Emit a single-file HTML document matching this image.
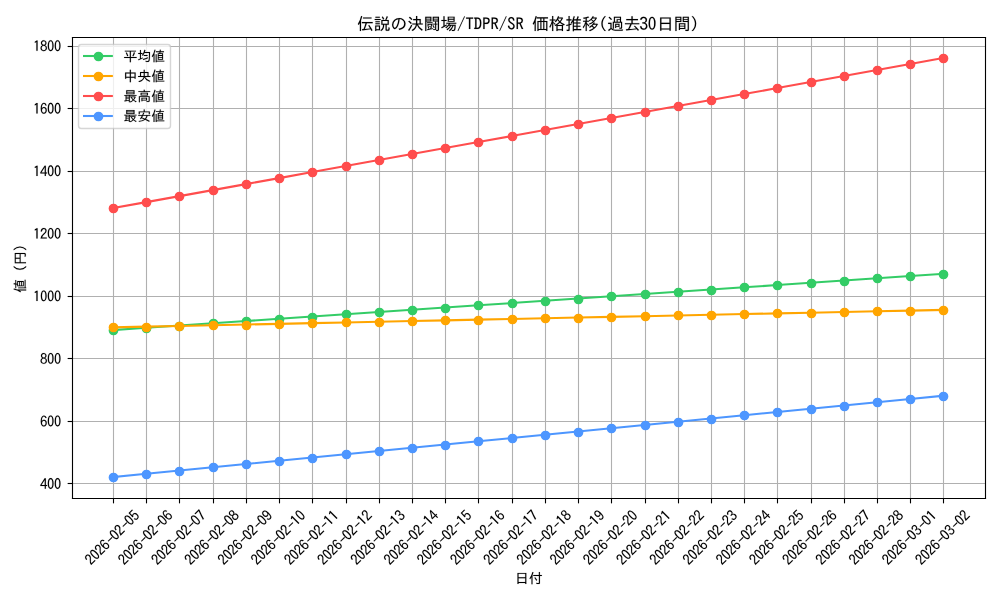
<!DOCTYPE html>
<html><head><meta charset="utf-8"><title>chart</title>
<style>html,body{margin:0;padding:0;background:#fff;width:1000px;height:600px;overflow:hidden;font-family:"Liberation Sans",sans-serif}svg{display:block}g[id^="text_"]{stroke:#000;stroke-width:0.12px}path[id^="IPAGothic"]{vector-effect:non-scaling-stroke}</style>
</head><body>
<svg width="1000" height="600" viewBox="0 0 720 432">
<defs>
<style type="text/css">*{stroke-linejoin: round; stroke-linecap: butt}</style>
</defs>
<g id="figure_1">
<g id="patch_1">
<path d="M 0 432
L 720 432
L 720 0
L 0 0
z
" style="fill: #ffffff"/>
</g>
<g id="axes_1">
<g id="patch_2">
<path d="M 51.516 358.56
L 709.164 358.56
L 709.164 26.6904
L 51.516 26.6904
z
" style="fill: #ffffff"/>
</g>
<g id="matplotlib.axis_1">
<g id="xtick_1">
<g id="line2d_1">
<path d="M 81.7200 358.9200 L 81.7200 27.0000" clip-path="url(#p26bf94b5a2)" style="fill: none; stroke: #b0b0b0; stroke-width: 0.8; stroke-linecap: square"/>
</g>
<g id="line2d_2">
<defs>
<path id="m1504cfccaf" d="M 0 0
L 0 3.5
" style="stroke: #000000; stroke-width: 0.8"/>
</defs>
<g>
<use href="#m1504cfccaf" x="81.7200" y="358.9200" style="stroke: #000000; stroke-width: 0.8"/>
</g>
</g>
<g id="text_1" transform="translate(0.0000 0.6480)">
<!-- 2026-02-05 -->
<g transform="translate(66.058245 406.225269) rotate(-45) scale(0.1 -0.1)">
<defs>
<path id="IPAGothic-32" d="M2660.25 190.56250000000003H-201.7500000000001Q4.124999999999886 1492.375 1178.625 2446.375Q1647.75 2820.6875 1813.125 3062.5Q2029.125 3363.9375 2029.125 3774.6875Q2029.125 4109.25 1877.25 4317.9375Q1681.5 4609.4375 1290.0 4609.4375Q493.4999999999999 4609.4375 419.2499999999999 3456.6875H-124.12500000000011Q-83.62500000000011 4145.6875 206.6249999999999 4539.875Q587.9999999999999 5069.875 1303.5 5069.875Q1803.0 5069.875 2147.25 4785.0Q2582.625 4417.3125 2582.625 3781.3125Q2582.625 2893.5625 1560.0 2131.6875Q685.8749999999999 1479.125 510.3749999999999 694.0625H2660.25Z" transform="scale(0.015625)"/>
<path id="IPAGothic-30" d="M1257.9375 5076.5Q1870.975875 5076.5 2224.034625 4437.1875Q2599.56075 3758.125 2599.56075 2565.625Q2599.56075 1399.625 2243.2923749999995 727.1875Q1890.2336249999998 54.75000000000003 1257.9375 54.75000000000003Q628.8509999999998 54.75000000000003 285.42112499999996 707.3125Q-83.68575000000004 1402.9375 -83.68575000000004 2572.25Q-83.68575000000004 3811.125 323.93662499999994 4500.125Q667.3665 5076.5 1257.9375 5076.5ZM1257.9375 4579.625Q468.36974999999984 4579.625 468.36974999999984 2572.25Q468.36974999999984 551.625 1264.35675 551.625Q2047.5052499999997 551.625 2047.5052499999997 2552.375Q2047.5052499999997 4579.625 1257.9375 4579.625Z" transform="scale(0.015625)"/>
<path id="IPAGothic-36" d="M2035.875 3884.0Q1931.25 4602.8125 1377.75 4602.8125Q898.4999999999999 4602.8125 638.6249999999999 4033.0625Q395.6249999999999 3499.75 385.4999999999999 2588.8125Q780.3749999999999 3151.9375 1391.25 3151.9375Q1897.5 3151.9375 2248.5 2784.25Q2663.625 2356.9375 2663.625 1658.0Q2663.625 1075.0 2380.125 641.0625Q1995.375 58.06250000000003 1296.75 58.06250000000003Q662.2499999999999 58.06250000000003 280.8749999999999 627.8125Q-127.50000000000011 1253.875 -127.50000000000011 2363.5625Q-127.50000000000011 3542.8125 230.2499999999999 4268.25Q638.6249999999999 5076.5 1371.0 5076.5Q2373.375 5076.5 2602.875 3884.0ZM1303.5 2711.375Q901.8749999999999 2711.375 658.8749999999999 2350.3125Q473.2499999999999 2065.4375 473.2499999999999 1638.125Q473.2499999999999 1253.875 604.8749999999999 985.5625Q834.3749999999999 525.125 1310.25 525.125Q1691.625 525.125 1924.5 863.0Q2130.375 1161.125 2130.375 1644.75Q2130.375 2085.3125 1951.5 2363.5625Q1732.125 2711.375 1303.5 2711.375Z" transform="scale(0.015625)"/>
<path id="IPAGothic-2d" d="M 313 2663
L 2884 2663
L 2884 2203
L 313 2203
L 313 2663
z
" transform="scale(0.015625)"/>
<path id="IPAGothic-35" d="M139.1249999999999 4940.6875H2434.125V4467.0H621.7499999999999L547.4999999999999 2906.8125Q888.3749999999999 3291.0625 1404.75 3291.0625Q1958.25 3291.0625 2322.75 2830.625Q2670.375 2386.75 2670.375 1724.25Q2670.375 1157.8125 2440.875 740.4375Q2056.125 54.75000000000003 1246.125 54.75000000000003Q108.74999999999989 54.75000000000003 -117.37500000000011 1303.5625H436.1249999999999Q550.8749999999999 528.4375 1242.75 528.4375Q1688.25 528.4375 1934.625 902.75Q2143.875 1217.4375 2143.875 1717.625Q2143.875 2161.5 1968.375 2449.6875Q1752.375 2837.25 1313.625 2837.25Q776.9999999999999 2837.25 456.3749999999999 2204.5625L20.999999999999886 2294.0Z" transform="scale(0.015625)"/>
</defs>
<use href="#IPAGothic-32"/>
<use href="#IPAGothic-30" transform="translate(50 0)"/>
<use href="#IPAGothic-32" transform="translate(100 0)"/>
<use href="#IPAGothic-36" transform="translate(150 0)"/>
<use href="#IPAGothic-2d" transform="translate(200 0)"/>
<use href="#IPAGothic-30" transform="translate(250 0)"/>
<use href="#IPAGothic-32" transform="translate(300 0)"/>
<use href="#IPAGothic-2d" transform="translate(350 0)"/>
<use href="#IPAGothic-30" transform="translate(400 0)"/>
<use href="#IPAGothic-35" transform="translate(450 0)"/>
</g>
</g>
</g>
<g id="xtick_2">
<g id="line2d_3">
<path d="M 105.4800 358.9200 L 105.4800 27.0000" clip-path="url(#p26bf94b5a2)" style="fill: none; stroke: #b0b0b0; stroke-width: 0.8; stroke-linecap: square"/>
</g>
<g id="line2d_4">
<g>
<use href="#m1504cfccaf" x="105.4800" y="358.9200" style="stroke: #000000; stroke-width: 0.8"/>
</g>
</g>
<g id="text_2" transform="translate(0.0000 0.6480)">
<!-- 2026-02-06 -->
<g transform="translate(89.972717 406.225269) rotate(-45) scale(0.1 -0.1)">
<use href="#IPAGothic-32"/>
<use href="#IPAGothic-30" transform="translate(50 0)"/>
<use href="#IPAGothic-32" transform="translate(100 0)"/>
<use href="#IPAGothic-36" transform="translate(150 0)"/>
<use href="#IPAGothic-2d" transform="translate(200 0)"/>
<use href="#IPAGothic-30" transform="translate(250 0)"/>
<use href="#IPAGothic-32" transform="translate(300 0)"/>
<use href="#IPAGothic-2d" transform="translate(350 0)"/>
<use href="#IPAGothic-30" transform="translate(400 0)"/>
<use href="#IPAGothic-36" transform="translate(450 0)"/>
</g>
</g>
</g>
<g id="xtick_3">
<g id="line2d_5">
<path d="M 129.2400 358.9200 L 129.2400 27.0000" clip-path="url(#p26bf94b5a2)" style="fill: none; stroke: #b0b0b0; stroke-width: 0.8; stroke-linecap: square"/>
</g>
<g id="line2d_6">
<g>
<use href="#m1504cfccaf" x="129.2400" y="358.9200" style="stroke: #000000; stroke-width: 0.8"/>
</g>
</g>
<g id="text_3" transform="translate(0.0000 0.6480)">
<!-- 2026-02-07 -->
<g transform="translate(113.88719 406.225269) rotate(-45) scale(0.1 -0.1)">
<defs>
<path id="IPAGothic-37" d="M-127.50000000000011 4940.6875H2636.625V4553.125Q1664.625 2191.3125 1178.625 190.56250000000003H550.8749999999999Q1077.375 2019.0625 2042.625 4423.9375H-127.50000000000011Z" transform="scale(0.015625)"/>
</defs>
<use href="#IPAGothic-32"/>
<use href="#IPAGothic-30" transform="translate(50 0)"/>
<use href="#IPAGothic-32" transform="translate(100 0)"/>
<use href="#IPAGothic-36" transform="translate(150 0)"/>
<use href="#IPAGothic-2d" transform="translate(200 0)"/>
<use href="#IPAGothic-30" transform="translate(250 0)"/>
<use href="#IPAGothic-32" transform="translate(300 0)"/>
<use href="#IPAGothic-2d" transform="translate(350 0)"/>
<use href="#IPAGothic-30" transform="translate(400 0)"/>
<use href="#IPAGothic-37" transform="translate(450 0)"/>
</g>
</g>
</g>
<g id="xtick_4">
<g id="line2d_7">
<path d="M 153.7200 358.9200 L 153.7200 27.0000" clip-path="url(#p26bf94b5a2)" style="fill: none; stroke: #b0b0b0; stroke-width: 0.8; stroke-linecap: square"/>
</g>
<g id="line2d_8">
<g>
<use href="#m1504cfccaf" x="153.7200" y="358.9200" style="stroke: #000000; stroke-width: 0.8"/>
</g>
</g>
<g id="text_4" transform="translate(0.0000 0.6480)">
<!-- 2026-02-08 -->
<g transform="translate(137.801663 406.225269) rotate(-45) scale(0.1 -0.1)">
<defs>
<path id="IPAGothic-38" d="M662.2499999999999 2751.125Q-36.375000000000114 3085.6875 -36.375000000000114 3821.0625Q-36.375000000000114 4175.5 135.7499999999999 4467.0Q500.2499999999999 5076.5 1256.25 5076.5Q1634.25 5076.5 1961.625 4881.0625Q2548.875 4526.625 2548.875 3821.0625Q2548.875 3085.6875 1850.25 2751.125Q2744.625 2413.25 2744.625 1479.125Q2744.625 945.8125 2440.875 564.875Q2035.875 54.75000000000003 1256.25 54.75000000000003Q594.7499999999999 54.75000000000003 193.1249999999999 429.0625Q-228.7500000000001 823.25 -228.7500000000001 1479.125Q-228.7500000000001 2413.25 662.2499999999999 2751.125ZM1256.25 4642.5625Q908.6249999999999 4642.5625 689.2499999999999 4397.4375Q490.1249999999999 4168.875 490.1249999999999 3827.6875Q490.1249999999999 3602.4375 574.4999999999999 3420.25Q780.3749999999999 2979.6875 1263.0 2979.6875Q1539.75 2979.6875 1732.125 3148.625Q2022.375 3393.75 2022.375 3827.6875Q2022.375 4251.6875 1732.125 4486.875Q1533.0 4642.5625 1256.25 4642.5625ZM1249.5 2492.75Q800.6249999999999 2492.75 533.9999999999999 2168.125Q311.2499999999999 1886.5625 311.2499999999999 1479.125Q311.2499999999999 1088.25 527.2499999999999 826.5625Q793.8749999999999 501.9375 1256.25 501.9375Q1722.0 501.9375 1992.0 826.5625Q2204.625 1088.25 2204.625 1479.125Q2204.625 1989.25 1887.375 2260.875Q1630.875 2492.75 1249.5 2492.75Z" transform="scale(0.015625)"/>
</defs>
<use href="#IPAGothic-32"/>
<use href="#IPAGothic-30" transform="translate(50 0)"/>
<use href="#IPAGothic-32" transform="translate(100 0)"/>
<use href="#IPAGothic-36" transform="translate(150 0)"/>
<use href="#IPAGothic-2d" transform="translate(200 0)"/>
<use href="#IPAGothic-30" transform="translate(250 0)"/>
<use href="#IPAGothic-32" transform="translate(300 0)"/>
<use href="#IPAGothic-2d" transform="translate(350 0)"/>
<use href="#IPAGothic-30" transform="translate(400 0)"/>
<use href="#IPAGothic-38" transform="translate(450 0)"/>
</g>
</g>
</g>
<g id="xtick_5">
<g id="line2d_9">
<path d="M 177.4800 358.9200 L 177.4800 27.0000" clip-path="url(#p26bf94b5a2)" style="fill: none; stroke: #b0b0b0; stroke-width: 0.8; stroke-linecap: square"/>
</g>
<g id="line2d_10">
<g>
<use href="#m1504cfccaf" x="177.4800" y="358.9200" style="stroke: #000000; stroke-width: 0.8"/>
</g>
</g>
<g id="text_5" transform="translate(0.0000 0.6480)">
<!-- 2026-02-09 -->
<g transform="translate(161.716136 406.225269) rotate(-45) scale(0.1 -0.1)">
<defs>
<path id="IPAGothic-39" d="M510.3749999999999 1290.3125Q594.7499999999999 551.625 1222.5 551.625Q2154.0 551.625 2143.875 2496.0625Q1755.75 1936.25 1168.5 1936.25Q456.3749999999999 1936.25 101.99999999999989 2588.8125Q-97.12500000000011 2969.75 -97.12500000000011 3469.9375Q-97.12500000000011 4105.9375 253.8749999999999 4573.0Q631.8749999999999 5076.5 1222.5 5076.5Q2646.75 5076.5 2646.75 2714.6875Q2646.75 54.75000000000003 1229.25 54.75000000000003Q581.2499999999999 54.75000000000003 206.6249999999999 604.625Q14.249999999999886 889.5 -56.625000000000114 1290.3125ZM1246.125 4609.4375Q429.3749999999999 4609.4375 429.3749999999999 3483.1875Q429.3749999999999 3065.8125 574.4999999999999 2790.875Q790.4999999999999 2383.4375 1246.125 2383.4375Q1536.375 2383.4375 1762.5 2635.1875Q2052.75 2959.8125 2052.75 3483.1875Q2052.75 4006.5625 1823.25 4311.3125Q1603.875 4609.4375 1246.125 4609.4375Z" transform="scale(0.015625)"/>
</defs>
<use href="#IPAGothic-32"/>
<use href="#IPAGothic-30" transform="translate(50 0)"/>
<use href="#IPAGothic-32" transform="translate(100 0)"/>
<use href="#IPAGothic-36" transform="translate(150 0)"/>
<use href="#IPAGothic-2d" transform="translate(200 0)"/>
<use href="#IPAGothic-30" transform="translate(250 0)"/>
<use href="#IPAGothic-32" transform="translate(300 0)"/>
<use href="#IPAGothic-2d" transform="translate(350 0)"/>
<use href="#IPAGothic-30" transform="translate(400 0)"/>
<use href="#IPAGothic-39" transform="translate(450 0)"/>
</g>
</g>
</g>
<g id="xtick_6">
<g id="line2d_11">
<path d="M 201.2400 358.9200 L 201.2400 27.0000" clip-path="url(#p26bf94b5a2)" style="fill: none; stroke: #b0b0b0; stroke-width: 0.8; stroke-linecap: square"/>
</g>
<g id="line2d_12">
<g>
<use href="#m1504cfccaf" x="201.2400" y="358.9200" style="stroke: #000000; stroke-width: 0.8"/>
</g>
</g>
<g id="text_6" transform="translate(0.0000 0.6480)">
<!-- 2026-02-10 -->
<g transform="translate(185.630608 406.225269) rotate(-45) scale(0.1 -0.1)">
<defs>
<path id="IPAGothic-31" d="M1070.625 190.56250000000003V4248.375Q810.7499999999999 4076.125 344.9999999999999 3884.0V4430.5625Q884.9999999999999 4626.0 1215.75 4940.6875H1637.625V190.56250000000003Z" transform="scale(0.015625)"/>
</defs>
<use href="#IPAGothic-32"/>
<use href="#IPAGothic-30" transform="translate(50 0)"/>
<use href="#IPAGothic-32" transform="translate(100 0)"/>
<use href="#IPAGothic-36" transform="translate(150 0)"/>
<use href="#IPAGothic-2d" transform="translate(200 0)"/>
<use href="#IPAGothic-30" transform="translate(250 0)"/>
<use href="#IPAGothic-32" transform="translate(300 0)"/>
<use href="#IPAGothic-2d" transform="translate(350 0)"/>
<use href="#IPAGothic-31" transform="translate(400 0)"/>
<use href="#IPAGothic-30" transform="translate(450 0)"/>
</g>
</g>
</g>
<g id="xtick_7">
<g id="line2d_13">
<path d="M 225.0000 358.9200 L 225.0000 27.0000" clip-path="url(#p26bf94b5a2)" style="fill: none; stroke: #b0b0b0; stroke-width: 0.8; stroke-linecap: square"/>
</g>
<g id="line2d_14">
<g>
<use href="#m1504cfccaf" x="225.0000" y="358.9200" style="stroke: #000000; stroke-width: 0.8"/>
</g>
</g>
<g id="text_7" transform="translate(0.0000 0.6480)">
<!-- 2026-02-11 -->
<g transform="translate(209.545081 406.225269) rotate(-45) scale(0.1 -0.1)">
<use href="#IPAGothic-32"/>
<use href="#IPAGothic-30" transform="translate(50 0)"/>
<use href="#IPAGothic-32" transform="translate(100 0)"/>
<use href="#IPAGothic-36" transform="translate(150 0)"/>
<use href="#IPAGothic-2d" transform="translate(200 0)"/>
<use href="#IPAGothic-30" transform="translate(250 0)"/>
<use href="#IPAGothic-32" transform="translate(300 0)"/>
<use href="#IPAGothic-2d" transform="translate(350 0)"/>
<use href="#IPAGothic-31" transform="translate(400 0)"/>
<use href="#IPAGothic-31" transform="translate(450 0)"/>
</g>
</g>
</g>
<g id="xtick_8">
<g id="line2d_15">
<path d="M 249.4800 358.9200 L 249.4800 27.0000" clip-path="url(#p26bf94b5a2)" style="fill: none; stroke: #b0b0b0; stroke-width: 0.8; stroke-linecap: square"/>
</g>
<g id="line2d_16">
<g>
<use href="#m1504cfccaf" x="249.4800" y="358.9200" style="stroke: #000000; stroke-width: 0.8"/>
</g>
</g>
<g id="text_8" transform="translate(0.0000 0.6480)">
<!-- 2026-02-12 -->
<g transform="translate(233.459554 406.225269) rotate(-45) scale(0.1 -0.1)">
<use href="#IPAGothic-32"/>
<use href="#IPAGothic-30" transform="translate(50 0)"/>
<use href="#IPAGothic-32" transform="translate(100 0)"/>
<use href="#IPAGothic-36" transform="translate(150 0)"/>
<use href="#IPAGothic-2d" transform="translate(200 0)"/>
<use href="#IPAGothic-30" transform="translate(250 0)"/>
<use href="#IPAGothic-32" transform="translate(300 0)"/>
<use href="#IPAGothic-2d" transform="translate(350 0)"/>
<use href="#IPAGothic-31" transform="translate(400 0)"/>
<use href="#IPAGothic-32" transform="translate(450 0)"/>
</g>
</g>
</g>
<g id="xtick_9">
<g id="line2d_17">
<path d="M 273.2400 358.9200 L 273.2400 27.0000" clip-path="url(#p26bf94b5a2)" style="fill: none; stroke: #b0b0b0; stroke-width: 0.8; stroke-linecap: square"/>
</g>
<g id="line2d_18">
<g>
<use href="#m1504cfccaf" x="273.2400" y="358.9200" style="stroke: #000000; stroke-width: 0.8"/>
</g>
</g>
<g id="text_9" transform="translate(0.0000 0.6480)">
<!-- 2026-02-13 -->
<g transform="translate(257.374026 406.225269) rotate(-45) scale(0.1 -0.1)">
<defs>
<path id="IPAGothic-33" d="M729.7499999999999 2953.1875H1074.0Q1516.125 2953.1875 1681.5 3075.75Q1992.0 3310.9375 1992.0 3781.3125Q1992.0 4616.0625 1219.125 4616.0625Q577.8749999999999 4616.0625 432.7499999999999 3903.875H-114.00000000000011Q-39.750000000000114 4351.0625 203.2499999999999 4642.5625Q574.4999999999999 5076.5 1219.125 5076.5Q1759.125 5076.5 2110.125 4771.75Q2525.25 4414.0 2525.25 3801.1875Q2525.25 2976.375 1772.625 2721.3125Q2680.5 2376.8125 2680.5 1465.875Q2680.5 882.875 2343.0 508.5625Q1938.0 54.75000000000003 1229.25 54.75000000000003Q564.3749999999999 54.75000000000003 169.4999999999999 501.9375Q-120.75000000000011 829.875 -181.5000000000001 1406.25H385.4999999999999Q456.3749999999999 521.8125 1229.25 521.8125Q1587.0 521.8125 1830.0 720.5625Q2133.75 975.625 2133.75 1465.875Q2133.75 2519.25 1074.0 2519.25H729.7499999999999Z" transform="scale(0.015625)"/>
</defs>
<use href="#IPAGothic-32"/>
<use href="#IPAGothic-30" transform="translate(50 0)"/>
<use href="#IPAGothic-32" transform="translate(100 0)"/>
<use href="#IPAGothic-36" transform="translate(150 0)"/>
<use href="#IPAGothic-2d" transform="translate(200 0)"/>
<use href="#IPAGothic-30" transform="translate(250 0)"/>
<use href="#IPAGothic-32" transform="translate(300 0)"/>
<use href="#IPAGothic-2d" transform="translate(350 0)"/>
<use href="#IPAGothic-31" transform="translate(400 0)"/>
<use href="#IPAGothic-33" transform="translate(450 0)"/>
</g>
</g>
</g>
<g id="xtick_10">
<g id="line2d_19">
<path d="M 297.0000 358.9200 L 297.0000 27.0000" clip-path="url(#p26bf94b5a2)" style="fill: none; stroke: #b0b0b0; stroke-width: 0.8; stroke-linecap: square"/>
</g>
<g id="line2d_20">
<g>
<use href="#m1504cfccaf" x="297.0000" y="358.9200" style="stroke: #000000; stroke-width: 0.8"/>
</g>
</g>
<g id="text_10" transform="translate(0.0000 0.6480)">
<!-- 2026-02-14 -->
<g transform="translate(281.288499 406.225269) rotate(-45) scale(0.1 -0.1)">
<defs>
<path id="IPAGothic-34" d="M1651.125 4940.6875H2238.375V1826.9375H2812.125V1366.5H2238.375V190.56250000000003H1725.375V1366.5H-299.6250000000001V1840.1875ZM1725.375 4202.0 220.1249999999999 1826.9375H1725.375Z" transform="scale(0.015625)"/>
</defs>
<use href="#IPAGothic-32"/>
<use href="#IPAGothic-30" transform="translate(50 0)"/>
<use href="#IPAGothic-32" transform="translate(100 0)"/>
<use href="#IPAGothic-36" transform="translate(150 0)"/>
<use href="#IPAGothic-2d" transform="translate(200 0)"/>
<use href="#IPAGothic-30" transform="translate(250 0)"/>
<use href="#IPAGothic-32" transform="translate(300 0)"/>
<use href="#IPAGothic-2d" transform="translate(350 0)"/>
<use href="#IPAGothic-31" transform="translate(400 0)"/>
<use href="#IPAGothic-34" transform="translate(450 0)"/>
</g>
</g>
</g>
<g id="xtick_11">
<g id="line2d_21">
<path d="M 320.7600 358.9200 L 320.7600 27.0000" clip-path="url(#p26bf94b5a2)" style="fill: none; stroke: #b0b0b0; stroke-width: 0.8; stroke-linecap: square"/>
</g>
<g id="line2d_22">
<g>
<use href="#m1504cfccaf" x="320.7600" y="358.9200" style="stroke: #000000; stroke-width: 0.8"/>
</g>
</g>
<g id="text_11" transform="translate(0.0000 0.6480)">
<!-- 2026-02-15 -->
<g transform="translate(305.202972 406.225269) rotate(-45) scale(0.1 -0.1)">
<use href="#IPAGothic-32"/>
<use href="#IPAGothic-30" transform="translate(50 0)"/>
<use href="#IPAGothic-32" transform="translate(100 0)"/>
<use href="#IPAGothic-36" transform="translate(150 0)"/>
<use href="#IPAGothic-2d" transform="translate(200 0)"/>
<use href="#IPAGothic-30" transform="translate(250 0)"/>
<use href="#IPAGothic-32" transform="translate(300 0)"/>
<use href="#IPAGothic-2d" transform="translate(350 0)"/>
<use href="#IPAGothic-31" transform="translate(400 0)"/>
<use href="#IPAGothic-35" transform="translate(450 0)"/>
</g>
</g>
</g>
<g id="xtick_12">
<g id="line2d_23">
<path d="M 344.5200 358.9200 L 344.5200 27.0000" clip-path="url(#p26bf94b5a2)" style="fill: none; stroke: #b0b0b0; stroke-width: 0.8; stroke-linecap: square"/>
</g>
<g id="line2d_24">
<g>
<use href="#m1504cfccaf" x="344.5200" y="358.9200" style="stroke: #000000; stroke-width: 0.8"/>
</g>
</g>
<g id="text_12" transform="translate(0.0000 0.6480)">
<!-- 2026-02-16 -->
<g transform="translate(329.117445 406.225269) rotate(-45) scale(0.1 -0.1)">
<use href="#IPAGothic-32"/>
<use href="#IPAGothic-30" transform="translate(50 0)"/>
<use href="#IPAGothic-32" transform="translate(100 0)"/>
<use href="#IPAGothic-36" transform="translate(150 0)"/>
<use href="#IPAGothic-2d" transform="translate(200 0)"/>
<use href="#IPAGothic-30" transform="translate(250 0)"/>
<use href="#IPAGothic-32" transform="translate(300 0)"/>
<use href="#IPAGothic-2d" transform="translate(350 0)"/>
<use href="#IPAGothic-31" transform="translate(400 0)"/>
<use href="#IPAGothic-36" transform="translate(450 0)"/>
</g>
</g>
</g>
<g id="xtick_13">
<g id="line2d_25">
<path d="M 369.0000 358.9200 L 369.0000 27.0000" clip-path="url(#p26bf94b5a2)" style="fill: none; stroke: #b0b0b0; stroke-width: 0.8; stroke-linecap: square"/>
</g>
<g id="line2d_26">
<g>
<use href="#m1504cfccaf" x="369.0000" y="358.9200" style="stroke: #000000; stroke-width: 0.8"/>
</g>
</g>
<g id="text_13" transform="translate(0.0000 0.6480)">
<!-- 2026-02-17 -->
<g transform="translate(353.031917 406.225269) rotate(-45) scale(0.1 -0.1)">
<use href="#IPAGothic-32"/>
<use href="#IPAGothic-30" transform="translate(50 0)"/>
<use href="#IPAGothic-32" transform="translate(100 0)"/>
<use href="#IPAGothic-36" transform="translate(150 0)"/>
<use href="#IPAGothic-2d" transform="translate(200 0)"/>
<use href="#IPAGothic-30" transform="translate(250 0)"/>
<use href="#IPAGothic-32" transform="translate(300 0)"/>
<use href="#IPAGothic-2d" transform="translate(350 0)"/>
<use href="#IPAGothic-31" transform="translate(400 0)"/>
<use href="#IPAGothic-37" transform="translate(450 0)"/>
</g>
</g>
</g>
<g id="xtick_14">
<g id="line2d_27">
<path d="M 392.7600 358.9200 L 392.7600 27.0000" clip-path="url(#p26bf94b5a2)" style="fill: none; stroke: #b0b0b0; stroke-width: 0.8; stroke-linecap: square"/>
</g>
<g id="line2d_28">
<g>
<use href="#m1504cfccaf" x="392.7600" y="358.9200" style="stroke: #000000; stroke-width: 0.8"/>
</g>
</g>
<g id="text_14" transform="translate(0.0000 0.6480)">
<!-- 2026-02-18 -->
<g transform="translate(376.94639 406.225269) rotate(-45) scale(0.1 -0.1)">
<use href="#IPAGothic-32"/>
<use href="#IPAGothic-30" transform="translate(50 0)"/>
<use href="#IPAGothic-32" transform="translate(100 0)"/>
<use href="#IPAGothic-36" transform="translate(150 0)"/>
<use href="#IPAGothic-2d" transform="translate(200 0)"/>
<use href="#IPAGothic-30" transform="translate(250 0)"/>
<use href="#IPAGothic-32" transform="translate(300 0)"/>
<use href="#IPAGothic-2d" transform="translate(350 0)"/>
<use href="#IPAGothic-31" transform="translate(400 0)"/>
<use href="#IPAGothic-38" transform="translate(450 0)"/>
</g>
</g>
</g>
<g id="xtick_15">
<g id="line2d_29">
<path d="M 416.5200 358.9200 L 416.5200 27.0000" clip-path="url(#p26bf94b5a2)" style="fill: none; stroke: #b0b0b0; stroke-width: 0.8; stroke-linecap: square"/>
</g>
<g id="line2d_30">
<g>
<use href="#m1504cfccaf" x="416.5200" y="358.9200" style="stroke: #000000; stroke-width: 0.8"/>
</g>
</g>
<g id="text_15" transform="translate(0.0000 0.6480)">
<!-- 2026-02-19 -->
<g transform="translate(400.860863 406.225269) rotate(-45) scale(0.1 -0.1)">
<use href="#IPAGothic-32"/>
<use href="#IPAGothic-30" transform="translate(50 0)"/>
<use href="#IPAGothic-32" transform="translate(100 0)"/>
<use href="#IPAGothic-36" transform="translate(150 0)"/>
<use href="#IPAGothic-2d" transform="translate(200 0)"/>
<use href="#IPAGothic-30" transform="translate(250 0)"/>
<use href="#IPAGothic-32" transform="translate(300 0)"/>
<use href="#IPAGothic-2d" transform="translate(350 0)"/>
<use href="#IPAGothic-31" transform="translate(400 0)"/>
<use href="#IPAGothic-39" transform="translate(450 0)"/>
</g>
</g>
</g>
<g id="xtick_16">
<g id="line2d_31">
<path d="M 440.2800 358.9200 L 440.2800 27.0000" clip-path="url(#p26bf94b5a2)" style="fill: none; stroke: #b0b0b0; stroke-width: 0.8; stroke-linecap: square"/>
</g>
<g id="line2d_32">
<g>
<use href="#m1504cfccaf" x="440.2800" y="358.9200" style="stroke: #000000; stroke-width: 0.8"/>
</g>
</g>
<g id="text_16" transform="translate(0.0000 0.6480)">
<!-- 2026-02-20 -->
<g transform="translate(424.775336 406.225269) rotate(-45) scale(0.1 -0.1)">
<use href="#IPAGothic-32"/>
<use href="#IPAGothic-30" transform="translate(50 0)"/>
<use href="#IPAGothic-32" transform="translate(100 0)"/>
<use href="#IPAGothic-36" transform="translate(150 0)"/>
<use href="#IPAGothic-2d" transform="translate(200 0)"/>
<use href="#IPAGothic-30" transform="translate(250 0)"/>
<use href="#IPAGothic-32" transform="translate(300 0)"/>
<use href="#IPAGothic-2d" transform="translate(350 0)"/>
<use href="#IPAGothic-32" transform="translate(400 0)"/>
<use href="#IPAGothic-30" transform="translate(450 0)"/>
</g>
</g>
</g>
<g id="xtick_17">
<g id="line2d_33">
<path d="M 464.7600 358.9200 L 464.7600 27.0000" clip-path="url(#p26bf94b5a2)" style="fill: none; stroke: #b0b0b0; stroke-width: 0.8; stroke-linecap: square"/>
</g>
<g id="line2d_34">
<g>
<use href="#m1504cfccaf" x="464.7600" y="358.9200" style="stroke: #000000; stroke-width: 0.8"/>
</g>
</g>
<g id="text_17" transform="translate(0.0000 0.6480)">
<!-- 2026-02-21 -->
<g transform="translate(448.689808 406.225269) rotate(-45) scale(0.1 -0.1)">
<use href="#IPAGothic-32"/>
<use href="#IPAGothic-30" transform="translate(50 0)"/>
<use href="#IPAGothic-32" transform="translate(100 0)"/>
<use href="#IPAGothic-36" transform="translate(150 0)"/>
<use href="#IPAGothic-2d" transform="translate(200 0)"/>
<use href="#IPAGothic-30" transform="translate(250 0)"/>
<use href="#IPAGothic-32" transform="translate(300 0)"/>
<use href="#IPAGothic-2d" transform="translate(350 0)"/>
<use href="#IPAGothic-32" transform="translate(400 0)"/>
<use href="#IPAGothic-31" transform="translate(450 0)"/>
</g>
</g>
</g>
<g id="xtick_18">
<g id="line2d_35">
<path d="M 488.5200 358.9200 L 488.5200 27.0000" clip-path="url(#p26bf94b5a2)" style="fill: none; stroke: #b0b0b0; stroke-width: 0.8; stroke-linecap: square"/>
</g>
<g id="line2d_36">
<g>
<use href="#m1504cfccaf" x="488.5200" y="358.9200" style="stroke: #000000; stroke-width: 0.8"/>
</g>
</g>
<g id="text_18" transform="translate(0.0000 0.6480)">
<!-- 2026-02-22 -->
<g transform="translate(472.604281 406.225269) rotate(-45) scale(0.1 -0.1)">
<use href="#IPAGothic-32"/>
<use href="#IPAGothic-30" transform="translate(50 0)"/>
<use href="#IPAGothic-32" transform="translate(100 0)"/>
<use href="#IPAGothic-36" transform="translate(150 0)"/>
<use href="#IPAGothic-2d" transform="translate(200 0)"/>
<use href="#IPAGothic-30" transform="translate(250 0)"/>
<use href="#IPAGothic-32" transform="translate(300 0)"/>
<use href="#IPAGothic-2d" transform="translate(350 0)"/>
<use href="#IPAGothic-32" transform="translate(400 0)"/>
<use href="#IPAGothic-32" transform="translate(450 0)"/>
</g>
</g>
</g>
<g id="xtick_19">
<g id="line2d_37">
<path d="M 512.2800 358.9200 L 512.2800 27.0000" clip-path="url(#p26bf94b5a2)" style="fill: none; stroke: #b0b0b0; stroke-width: 0.8; stroke-linecap: square"/>
</g>
<g id="line2d_38">
<g>
<use href="#m1504cfccaf" x="512.2800" y="358.9200" style="stroke: #000000; stroke-width: 0.8"/>
</g>
</g>
<g id="text_19" transform="translate(0.0000 0.6480)">
<!-- 2026-02-23 -->
<g transform="translate(496.518754 406.225269) rotate(-45) scale(0.1 -0.1)">
<use href="#IPAGothic-32"/>
<use href="#IPAGothic-30" transform="translate(50 0)"/>
<use href="#IPAGothic-32" transform="translate(100 0)"/>
<use href="#IPAGothic-36" transform="translate(150 0)"/>
<use href="#IPAGothic-2d" transform="translate(200 0)"/>
<use href="#IPAGothic-30" transform="translate(250 0)"/>
<use href="#IPAGothic-32" transform="translate(300 0)"/>
<use href="#IPAGothic-2d" transform="translate(350 0)"/>
<use href="#IPAGothic-32" transform="translate(400 0)"/>
<use href="#IPAGothic-33" transform="translate(450 0)"/>
</g>
</g>
</g>
<g id="xtick_20">
<g id="line2d_39">
<path d="M 536.0400 358.9200 L 536.0400 27.0000" clip-path="url(#p26bf94b5a2)" style="fill: none; stroke: #b0b0b0; stroke-width: 0.8; stroke-linecap: square"/>
</g>
<g id="line2d_40">
<g>
<use href="#m1504cfccaf" x="536.0400" y="358.9200" style="stroke: #000000; stroke-width: 0.8"/>
</g>
</g>
<g id="text_20" transform="translate(0.0000 0.6480)">
<!-- 2026-02-24 -->
<g transform="translate(520.433226 406.225269) rotate(-45) scale(0.1 -0.1)">
<use href="#IPAGothic-32"/>
<use href="#IPAGothic-30" transform="translate(50 0)"/>
<use href="#IPAGothic-32" transform="translate(100 0)"/>
<use href="#IPAGothic-36" transform="translate(150 0)"/>
<use href="#IPAGothic-2d" transform="translate(200 0)"/>
<use href="#IPAGothic-30" transform="translate(250 0)"/>
<use href="#IPAGothic-32" transform="translate(300 0)"/>
<use href="#IPAGothic-2d" transform="translate(350 0)"/>
<use href="#IPAGothic-32" transform="translate(400 0)"/>
<use href="#IPAGothic-34" transform="translate(450 0)"/>
</g>
</g>
</g>
<g id="xtick_21">
<g id="line2d_41">
<path d="M 559.8000 358.9200 L 559.8000 27.0000" clip-path="url(#p26bf94b5a2)" style="fill: none; stroke: #b0b0b0; stroke-width: 0.8; stroke-linecap: square"/>
</g>
<g id="line2d_42">
<g>
<use href="#m1504cfccaf" x="559.8000" y="358.9200" style="stroke: #000000; stroke-width: 0.8"/>
</g>
</g>
<g id="text_21" transform="translate(0.0000 0.6480)">
<!-- 2026-02-25 -->
<g transform="translate(544.347699 406.225269) rotate(-45) scale(0.1 -0.1)">
<use href="#IPAGothic-32"/>
<use href="#IPAGothic-30" transform="translate(50 0)"/>
<use href="#IPAGothic-32" transform="translate(100 0)"/>
<use href="#IPAGothic-36" transform="translate(150 0)"/>
<use href="#IPAGothic-2d" transform="translate(200 0)"/>
<use href="#IPAGothic-30" transform="translate(250 0)"/>
<use href="#IPAGothic-32" transform="translate(300 0)"/>
<use href="#IPAGothic-2d" transform="translate(350 0)"/>
<use href="#IPAGothic-32" transform="translate(400 0)"/>
<use href="#IPAGothic-35" transform="translate(450 0)"/>
</g>
</g>
</g>
<g id="xtick_22">
<g id="line2d_43">
<path d="M 584.2800 358.9200 L 584.2800 27.0000" clip-path="url(#p26bf94b5a2)" style="fill: none; stroke: #b0b0b0; stroke-width: 0.8; stroke-linecap: square"/>
</g>
<g id="line2d_44">
<g>
<use href="#m1504cfccaf" x="584.2800" y="358.9200" style="stroke: #000000; stroke-width: 0.8"/>
</g>
</g>
<g id="text_22" transform="translate(0.0000 0.6480)">
<!-- 2026-02-26 -->
<g transform="translate(568.262172 406.225269) rotate(-45) scale(0.1 -0.1)">
<use href="#IPAGothic-32"/>
<use href="#IPAGothic-30" transform="translate(50 0)"/>
<use href="#IPAGothic-32" transform="translate(100 0)"/>
<use href="#IPAGothic-36" transform="translate(150 0)"/>
<use href="#IPAGothic-2d" transform="translate(200 0)"/>
<use href="#IPAGothic-30" transform="translate(250 0)"/>
<use href="#IPAGothic-32" transform="translate(300 0)"/>
<use href="#IPAGothic-2d" transform="translate(350 0)"/>
<use href="#IPAGothic-32" transform="translate(400 0)"/>
<use href="#IPAGothic-36" transform="translate(450 0)"/>
</g>
</g>
</g>
<g id="xtick_23">
<g id="line2d_45">
<path d="M 608.0400 358.9200 L 608.0400 27.0000" clip-path="url(#p26bf94b5a2)" style="fill: none; stroke: #b0b0b0; stroke-width: 0.8; stroke-linecap: square"/>
</g>
<g id="line2d_46">
<g>
<use href="#m1504cfccaf" x="608.0400" y="358.9200" style="stroke: #000000; stroke-width: 0.8"/>
</g>
</g>
<g id="text_23" transform="translate(0.0000 0.6480)">
<!-- 2026-02-27 -->
<g transform="translate(592.176645 406.225269) rotate(-45) scale(0.1 -0.1)">
<use href="#IPAGothic-32"/>
<use href="#IPAGothic-30" transform="translate(50 0)"/>
<use href="#IPAGothic-32" transform="translate(100 0)"/>
<use href="#IPAGothic-36" transform="translate(150 0)"/>
<use href="#IPAGothic-2d" transform="translate(200 0)"/>
<use href="#IPAGothic-30" transform="translate(250 0)"/>
<use href="#IPAGothic-32" transform="translate(300 0)"/>
<use href="#IPAGothic-2d" transform="translate(350 0)"/>
<use href="#IPAGothic-32" transform="translate(400 0)"/>
<use href="#IPAGothic-37" transform="translate(450 0)"/>
</g>
</g>
</g>
<g id="xtick_24">
<g id="line2d_47">
<path d="M 631.8000 358.9200 L 631.8000 27.0000" clip-path="url(#p26bf94b5a2)" style="fill: none; stroke: #b0b0b0; stroke-width: 0.8; stroke-linecap: square"/>
</g>
<g id="line2d_48">
<g>
<use href="#m1504cfccaf" x="631.8000" y="358.9200" style="stroke: #000000; stroke-width: 0.8"/>
</g>
</g>
<g id="text_24" transform="translate(0.0000 0.6480)">
<!-- 2026-02-28 -->
<g transform="translate(616.091117 406.225269) rotate(-45) scale(0.1 -0.1)">
<use href="#IPAGothic-32"/>
<use href="#IPAGothic-30" transform="translate(50 0)"/>
<use href="#IPAGothic-32" transform="translate(100 0)"/>
<use href="#IPAGothic-36" transform="translate(150 0)"/>
<use href="#IPAGothic-2d" transform="translate(200 0)"/>
<use href="#IPAGothic-30" transform="translate(250 0)"/>
<use href="#IPAGothic-32" transform="translate(300 0)"/>
<use href="#IPAGothic-2d" transform="translate(350 0)"/>
<use href="#IPAGothic-32" transform="translate(400 0)"/>
<use href="#IPAGothic-38" transform="translate(450 0)"/>
</g>
</g>
</g>
<g id="xtick_25">
<g id="line2d_49">
<path d="M 655.5600 358.9200 L 655.5600 27.0000" clip-path="url(#p26bf94b5a2)" style="fill: none; stroke: #b0b0b0; stroke-width: 0.8; stroke-linecap: square"/>
</g>
<g id="line2d_50">
<g>
<use href="#m1504cfccaf" x="655.5600" y="358.9200" style="stroke: #000000; stroke-width: 0.8"/>
</g>
</g>
<g id="text_25" transform="translate(0.0000 0.6480)">
<!-- 2026-03-01 -->
<g transform="translate(640.00559 406.225269) rotate(-45) scale(0.1 -0.1)">
<use href="#IPAGothic-32"/>
<use href="#IPAGothic-30" transform="translate(50 0)"/>
<use href="#IPAGothic-32" transform="translate(100 0)"/>
<use href="#IPAGothic-36" transform="translate(150 0)"/>
<use href="#IPAGothic-2d" transform="translate(200 0)"/>
<use href="#IPAGothic-30" transform="translate(250 0)"/>
<use href="#IPAGothic-33" transform="translate(300 0)"/>
<use href="#IPAGothic-2d" transform="translate(350 0)"/>
<use href="#IPAGothic-30" transform="translate(400 0)"/>
<use href="#IPAGothic-31" transform="translate(450 0)"/>
</g>
</g>
</g>
<g id="xtick_26">
<g id="line2d_51">
<path d="M 679.3200 358.9200 L 679.3200 27.0000" clip-path="url(#p26bf94b5a2)" style="fill: none; stroke: #b0b0b0; stroke-width: 0.8; stroke-linecap: square"/>
</g>
<g id="line2d_52">
<g>
<use href="#m1504cfccaf" x="679.3200" y="358.9200" style="stroke: #000000; stroke-width: 0.8"/>
</g>
</g>
<g id="text_26" transform="translate(0.0000 0.6480)">
<!-- 2026-03-02 -->
<g transform="translate(663.920063 406.225269) rotate(-45) scale(0.1 -0.1)">
<use href="#IPAGothic-32"/>
<use href="#IPAGothic-30" transform="translate(50 0)"/>
<use href="#IPAGothic-32" transform="translate(100 0)"/>
<use href="#IPAGothic-36" transform="translate(150 0)"/>
<use href="#IPAGothic-2d" transform="translate(200 0)"/>
<use href="#IPAGothic-30" transform="translate(250 0)"/>
<use href="#IPAGothic-33" transform="translate(300 0)"/>
<use href="#IPAGothic-2d" transform="translate(350 0)"/>
<use href="#IPAGothic-30" transform="translate(400 0)"/>
<use href="#IPAGothic-32" transform="translate(450 0)"/>
</g>
</g>
</g>
<g id="text_27" transform="translate(0.4320 1.2240)">
<!-- 日付 -->
<g transform="translate(370.34 418.751865) scale(0.1 -0.1)">
<defs>
<path id="IPAGothic-65e5" d="M 5231 4800
L 5231 -288
L 4744 -288
L 4744 128
L 1647 128
L 1647 -288
L 1159 -288
L 1159 4800
L 5231 4800
z
M 1647 4372
L 1647 2731
L 4744 2731
L 4744 4372
L 1647 4372
z
M 1647 2297
L 1647 556
L 4744 556
L 4744 2297
L 1647 2297
z
" transform="scale(0.015625)"/>
<path id="IPAGothic-4ed8" d="M 1681 3772
L 1681 -447
L 1213 -447
L 1213 2825
Q 913 2316 578 1863
L 316 2253
Q 1241 3463 1653 5184
L 2128 5069
Q 1928 4378 1719 3859
L 1681 3772
z
M 5084 3816
L 5994 3816
L 5994 3388
L 5109 3388
L 5109 213
Q 5109 -78 5006 -191
Q 4888 -319 4525 -319
Q 4031 -319 3516 -266
L 3431 238
Q 3978 141 4403 141
Q 4634 141 4634 384
L 4634 3388
L 2031 3388
L 2031 3816
L 4609 3816
L 4609 5153
L 5084 5153
L 5084 3816
z
M 3431 1172
Q 3034 1994 2547 2566
L 2931 2822
Q 3428 2231 3853 1472
L 3431 1172
z
" transform="scale(0.015625)"/>
</defs>
<use href="#IPAGothic-65e5"/>
<use href="#IPAGothic-4ed8" transform="translate(100 0)"/>
</g>
</g>
</g>
<g id="matplotlib.axis_2">
<g id="ytick_1">
<g id="line2d_53">
<path d="M 52.2000 348.1200 L 709.5600 348.1200" clip-path="url(#p26bf94b5a2)" style="fill: none; stroke: #b0b0b0; stroke-width: 0.8; stroke-linecap: square"/>
</g>
<g id="line2d_54">
<defs>
<path id="m5d545ce8f8" d="M 0 0
L -3.5 0
" style="stroke: #000000; stroke-width: 0.8"/>
</defs>
<g>
<use href="#m5d545ce8f8" x="52.2000" y="348.1200" style="stroke: #000000; stroke-width: 0.8"/>
</g>
</g>
<g id="text_28" transform="translate(0.0000 0.3960)">
<!-- 400 -->
<g transform="translate(29.516 351.732685) scale(0.1 -0.1)">
<use href="#IPAGothic-34"/>
<use href="#IPAGothic-30" transform="translate(50 0)"/>
<use href="#IPAGothic-30" transform="translate(100 0)"/>
</g>
</g>
</g>
<g id="ytick_2">
<g id="line2d_55">
<path d="M 52.2000 303.4800 L 709.5600 303.4800" clip-path="url(#p26bf94b5a2)" style="fill: none; stroke: #b0b0b0; stroke-width: 0.8; stroke-linecap: square"/>
</g>
<g id="line2d_56">
<g>
<use href="#m5d545ce8f8" x="52.2000" y="303.4800" style="stroke: #000000; stroke-width: 0.8"/>
</g>
</g>
<g id="text_29" transform="translate(0.0000 0.3960)">
<!-- 600 -->
<g transform="translate(29.516 306.702889) scale(0.1 -0.1)">
<use href="#IPAGothic-36"/>
<use href="#IPAGothic-30" transform="translate(50 0)"/>
<use href="#IPAGothic-30" transform="translate(100 0)"/>
</g>
</g>
</g>
<g id="ytick_3">
<g id="line2d_57">
<path d="M 52.2000 258.1200 L 709.5600 258.1200" clip-path="url(#p26bf94b5a2)" style="fill: none; stroke: #b0b0b0; stroke-width: 0.8; stroke-linecap: square"/>
</g>
<g id="line2d_58">
<g>
<use href="#m5d545ce8f8" x="52.2000" y="258.1200" style="stroke: #000000; stroke-width: 0.8"/>
</g>
</g>
<g id="text_30" transform="translate(0.0000 0.3960)">
<!-- 800 -->
<g transform="translate(29.516 261.673092) scale(0.1 -0.1)">
<use href="#IPAGothic-38"/>
<use href="#IPAGothic-30" transform="translate(50 0)"/>
<use href="#IPAGothic-30" transform="translate(100 0)"/>
</g>
</g>
</g>
<g id="ytick_4">
<g id="line2d_59">
<path d="M 52.2000 213.4800 L 709.5600 213.4800" clip-path="url(#p26bf94b5a2)" style="fill: none; stroke: #b0b0b0; stroke-width: 0.8; stroke-linecap: square"/>
</g>
<g id="line2d_60">
<g>
<use href="#m5d545ce8f8" x="52.2000" y="213.4800" style="stroke: #000000; stroke-width: 0.8"/>
</g>
</g>
<g id="text_31" transform="translate(0.0000 0.3960)">
<!-- 1000 -->
<g transform="translate(24.516 216.643296) scale(0.1 -0.1)">
<use href="#IPAGothic-31"/>
<use href="#IPAGothic-30" transform="translate(50 0)"/>
<use href="#IPAGothic-30" transform="translate(100 0)"/>
<use href="#IPAGothic-30" transform="translate(150 0)"/>
</g>
</g>
</g>
<g id="ytick_5">
<g id="line2d_61">
<path d="M 52.2000 168.1200 L 709.5600 168.1200" clip-path="url(#p26bf94b5a2)" style="fill: none; stroke: #b0b0b0; stroke-width: 0.8; stroke-linecap: square"/>
</g>
<g id="line2d_62">
<g>
<use href="#m5d545ce8f8" x="52.2000" y="168.1200" style="stroke: #000000; stroke-width: 0.8"/>
</g>
</g>
<g id="text_32" transform="translate(0.0000 0.3960)">
<!-- 1200 -->
<g transform="translate(24.516 171.613499) scale(0.1 -0.1)">
<use href="#IPAGothic-31"/>
<use href="#IPAGothic-32" transform="translate(50 0)"/>
<use href="#IPAGothic-30" transform="translate(100 0)"/>
<use href="#IPAGothic-30" transform="translate(150 0)"/>
</g>
</g>
</g>
<g id="ytick_6">
<g id="line2d_63">
<path d="M 52.2000 123.4800 L 709.5600 123.4800" clip-path="url(#p26bf94b5a2)" style="fill: none; stroke: #b0b0b0; stroke-width: 0.8; stroke-linecap: square"/>
</g>
<g id="line2d_64">
<g>
<use href="#m5d545ce8f8" x="52.2000" y="123.4800" style="stroke: #000000; stroke-width: 0.8"/>
</g>
</g>
<g id="text_33" transform="translate(0.0000 0.3960)">
<!-- 1400 -->
<g transform="translate(24.516 126.583703) scale(0.1 -0.1)">
<use href="#IPAGothic-31"/>
<use href="#IPAGothic-34" transform="translate(50 0)"/>
<use href="#IPAGothic-30" transform="translate(100 0)"/>
<use href="#IPAGothic-30" transform="translate(150 0)"/>
</g>
</g>
</g>
<g id="ytick_7">
<g id="line2d_65">
<path d="M 52.2000 78.1200 L 709.5600 78.1200" clip-path="url(#p26bf94b5a2)" style="fill: none; stroke: #b0b0b0; stroke-width: 0.8; stroke-linecap: square"/>
</g>
<g id="line2d_66">
<g>
<use href="#m5d545ce8f8" x="52.2000" y="78.1200" style="stroke: #000000; stroke-width: 0.8"/>
</g>
</g>
<g id="text_34" transform="translate(0.0000 0.3960)">
<!-- 1600 -->
<g transform="translate(24.516 81.553906) scale(0.1 -0.1)">
<use href="#IPAGothic-31"/>
<use href="#IPAGothic-36" transform="translate(50 0)"/>
<use href="#IPAGothic-30" transform="translate(100 0)"/>
<use href="#IPAGothic-30" transform="translate(150 0)"/>
</g>
</g>
</g>
<g id="ytick_8">
<g id="line2d_67">
<path d="M 52.2000 33.4800 L 709.5600 33.4800" clip-path="url(#p26bf94b5a2)" style="fill: none; stroke: #b0b0b0; stroke-width: 0.8; stroke-linecap: square"/>
</g>
<g id="line2d_68">
<g>
<use href="#m5d545ce8f8" x="52.2000" y="33.4800" style="stroke: #000000; stroke-width: 0.8"/>
</g>
</g>
<g id="text_35" transform="translate(0.0000 0.3960)">
<!-- 1800 -->
<g transform="translate(24.516 36.52411) scale(0.1 -0.1)">
<use href="#IPAGothic-31"/>
<use href="#IPAGothic-38" transform="translate(50 0)"/>
<use href="#IPAGothic-30" transform="translate(100 0)"/>
<use href="#IPAGothic-30" transform="translate(150 0)"/>
</g>
</g>
</g>
<g id="text_36" transform="translate(-1.4400 0.7200)">
<!-- 値 (円) -->
<g transform="translate(19.587875 210.1252) rotate(-90) scale(0.1 -0.1)">
<defs>
<path id="IPAGothic-5024" d="M 4172 3675
L 5453 3675
L 5453 684
L 3019 684
L 3019 3675
L 3747 3675
Q 3788 3884 3825 4153
L 2144 4153
L 2144 4544
L 3881 4544
Q 3922 4841 3966 5325
L 4434 5272
L 4391 4953
Q 4331 4578 4331 4544
L 5863 4544
L 5863 4153
L 4269 4153
Q 4200 3781 4172 3675
z
M 5038 3316
L 3434 3316
L 3434 2803
L 5038 2803
L 5038 3316
z
M 3434 2450
L 3434 1941
L 5038 1941
L 5038 2450
L 3434 2450
z
M 3434 1588
L 3434 1044
L 5038 1044
L 5038 1588
L 3434 1588
z
M 1509 3669
L 1509 -447
L 1069 -447
L 1069 2728
Q 856 2338 531 1875
L 288 2266
Q 1163 3534 1541 5325
L 1975 5225
Q 1791 4378 1509 3669
z
M 2488 244
L 6034 244
L 6034 -153
L 2488 -153
L 2488 -447
L 2059 -447
L 2059 3213
L 2488 3213
L 2488 244
z
" transform="scale(0.015625)"/>
<path id="IPAGothic-20" transform="scale(0.015625)"/>
<path id="IPAGothic-28" d="M 2219 -434
Q 997 769 997 2441
Q 997 4097 2219 5300
L 2719 5300
Q 1478 4078 1478 2425
Q 1478 788 2719 -434
L 2219 -434
z
" transform="scale(0.015625)"/>
<path id="IPAGothic-5186" d="M 5594 4806
L 5594 319
Q 5594 34 5491 -97
Q 5366 -269 4959 -269
Q 4469 -269 3897 -225
L 3809 275
Q 4384 206 4844 206
Q 5106 206 5106 434
L 5106 2119
L 1281 2119
L 1281 -359
L 794 -359
L 794 4806
L 5594 4806
z
M 1281 4366
L 1281 2547
L 2944 2547
L 2944 4366
L 1281 4366
z
M 5106 2547
L 5106 4366
L 3413 4366
L 3413 2547
L 5106 2547
z
" transform="scale(0.015625)"/>
<path id="IPAGothic-29" d="M 481 -434
Q 1722 788 1722 2434
Q 1722 4069 481 5300
L 981 5300
Q 2203 4097 2203 2434
Q 2203 769 981 -434
L 481 -434
z
" transform="scale(0.015625)"/>
</defs>
<use href="#IPAGothic-5024"/>
<use href="#IPAGothic-20" transform="translate(100 0)"/>
<use href="#IPAGothic-28" transform="translate(150 0)"/>
<use href="#IPAGothic-5186" transform="translate(200 0)"/>
<use href="#IPAGothic-29" transform="translate(300 0)"/>
</g>
</g>
</g>
<g id="line2d_69">
<path d="M 81.409091 237.654996
L 105.323564 236.033924
L 129.238036 234.412851
L 153.152509 232.791778
L 177.066982 231.170706
L 200.981455 229.549633
L 224.895927 227.92856
L 248.8104 226.307488
L 272.724873 224.686415
L 296.639345 223.065342
L 320.553818 221.44427
L 344.468291 219.823197
L 368.382764 218.202124
L 392.297236 216.581052
L 416.211709 214.959979
L 440.126182 213.338906
L 464.040655 211.717834
L 487.955127 210.096761
L 511.8696 208.475688
L 535.784073 206.854616
L 559.698545 205.233543
L 583.613018 203.61247
L 607.527491 201.991398
L 631.441964 200.370325
L 655.356436 198.749252
L 679.270909 197.12818
" clip-path="url(#p26bf94b5a2)" style="fill: none; stroke: #33cc66; stroke-width: 1.5; stroke-linecap: square"/>
<defs>
<path id="med5955925c" d="M 0 3
C 0.795609 3 1.55874 2.683901 2.12132 2.12132
C 2.683901 1.55874 3 0.795609 3 0
C 3 -0.795609 2.683901 -1.55874 2.12132 -2.12132
C 1.55874 -2.683901 0.795609 -3 0 -3
C -0.795609 -3 -1.55874 -2.683901 -2.12132 -2.12132
C -2.683901 -1.55874 -3 -0.795609 -3 0
C -3 0.795609 -2.683901 1.55874 -2.12132 2.12132
C -1.55874 2.683901 -0.795609 3 0 3
z
" style="stroke: #33cc66"/>
</defs>
<g clip-path="url(#p26bf94b5a2)">
<use href="#med5955925c" x="81.7200" y="237.9600" style="fill: #33cc66; stroke: #33cc66"/>
<use href="#med5955925c" x="105.4800" y="236.5200" style="fill: #33cc66; stroke: #33cc66"/>
<use href="#med5955925c" x="129.2400" y="235.0800" style="fill: #33cc66; stroke: #33cc66"/>
<use href="#med5955925c" x="153.7200" y="232.9200" style="fill: #33cc66; stroke: #33cc66"/>
<use href="#med5955925c" x="177.4800" y="231.4800" style="fill: #33cc66; stroke: #33cc66"/>
<use href="#med5955925c" x="201.2400" y="230.0400" style="fill: #33cc66; stroke: #33cc66"/>
<use href="#med5955925c" x="225.0000" y="228.6000" style="fill: #33cc66; stroke: #33cc66"/>
<use href="#med5955925c" x="249.4800" y="226.4400" style="fill: #33cc66; stroke: #33cc66"/>
<use href="#med5955925c" x="273.2400" y="225.0000" style="fill: #33cc66; stroke: #33cc66"/>
<use href="#med5955925c" x="297.0000" y="223.5600" style="fill: #33cc66; stroke: #33cc66"/>
<use href="#med5955925c" x="320.7600" y="222.1200" style="fill: #33cc66; stroke: #33cc66"/>
<use href="#med5955925c" x="344.5200" y="219.9600" style="fill: #33cc66; stroke: #33cc66"/>
<use href="#med5955925c" x="369.0000" y="218.5200" style="fill: #33cc66; stroke: #33cc66"/>
<use href="#med5955925c" x="392.7600" y="217.0800" style="fill: #33cc66; stroke: #33cc66"/>
<use href="#med5955925c" x="416.5200" y="215.6400" style="fill: #33cc66; stroke: #33cc66"/>
<use href="#med5955925c" x="440.2800" y="213.4800" style="fill: #33cc66; stroke: #33cc66"/>
<use href="#med5955925c" x="464.7600" y="212.0400" style="fill: #33cc66; stroke: #33cc66"/>
<use href="#med5955925c" x="488.5200" y="210.6000" style="fill: #33cc66; stroke: #33cc66"/>
<use href="#med5955925c" x="512.2800" y="209.1600" style="fill: #33cc66; stroke: #33cc66"/>
<use href="#med5955925c" x="536.0400" y="207.0000" style="fill: #33cc66; stroke: #33cc66"/>
<use href="#med5955925c" x="559.8000" y="205.5600" style="fill: #33cc66; stroke: #33cc66"/>
<use href="#med5955925c" x="584.2800" y="204.1200" style="fill: #33cc66; stroke: #33cc66"/>
<use href="#med5955925c" x="608.0400" y="202.6800" style="fill: #33cc66; stroke: #33cc66"/>
<use href="#med5955925c" x="631.8000" y="200.5200" style="fill: #33cc66; stroke: #33cc66"/>
<use href="#med5955925c" x="655.5600" y="199.0800" style="fill: #33cc66; stroke: #33cc66"/>
<use href="#med5955925c" x="679.3200" y="197.6400" style="fill: #33cc66; stroke: #33cc66"/>
</g>
</g>
<g id="line2d_70">
<path d="M 81.409091 235.673685
L 105.323564 235.171603
L 129.238036 234.669521
L 153.152509 234.167439
L 177.066982 233.665357
L 200.981455 233.163274
L 224.895927 232.661192
L 248.8104 232.15911
L 272.724873 231.657028
L 296.639345 231.154945
L 320.553818 230.652863
L 344.468291 230.150781
L 368.382764 229.648699
L 392.297236 229.146616
L 416.211709 228.644534
L 440.126182 228.142452
L 464.040655 227.64037
L 487.955127 227.138288
L 511.8696 226.636205
L 535.784073 226.134123
L 559.698545 225.632041
L 583.613018 225.129959
L 607.527491 224.627876
L 631.441964 224.125794
L 655.356436 223.623712
L 679.270909 223.12163
" clip-path="url(#p26bf94b5a2)" style="fill: none; stroke: #ffa500; stroke-width: 1.5; stroke-linecap: square"/>
<defs>
<path id="m3cc280db12" d="M 0 3
C 0.795609 3 1.55874 2.683901 2.12132 2.12132
C 2.683901 1.55874 3 0.795609 3 0
C 3 -0.795609 2.683901 -1.55874 2.12132 -2.12132
C 1.55874 -2.683901 0.795609 -3 0 -3
C -0.795609 -3 -1.55874 -2.683901 -2.12132 -2.12132
C -2.683901 -1.55874 -3 -0.795609 -3 0
C -3 0.795609 -2.683901 1.55874 -2.12132 2.12132
C -1.55874 2.683901 -0.795609 3 0 3
z
" style="stroke: #ffa500"/>
</defs>
<g clip-path="url(#p26bf94b5a2)">
<use href="#m3cc280db12" x="81.7200" y="235.8000" style="fill: #ffa500; stroke: #ffa500"/>
<use href="#m3cc280db12" x="105.4800" y="235.8000" style="fill: #ffa500; stroke: #ffa500"/>
<use href="#m3cc280db12" x="129.2400" y="235.0800" style="fill: #ffa500; stroke: #ffa500"/>
<use href="#m3cc280db12" x="153.7200" y="234.3600" style="fill: #ffa500; stroke: #ffa500"/>
<use href="#m3cc280db12" x="177.4800" y="234.3600" style="fill: #ffa500; stroke: #ffa500"/>
<use href="#m3cc280db12" x="201.2400" y="233.6400" style="fill: #ffa500; stroke: #ffa500"/>
<use href="#m3cc280db12" x="225.0000" y="232.9200" style="fill: #ffa500; stroke: #ffa500"/>
<use href="#m3cc280db12" x="249.4800" y="232.2000" style="fill: #ffa500; stroke: #ffa500"/>
<use href="#m3cc280db12" x="273.2400" y="232.2000" style="fill: #ffa500; stroke: #ffa500"/>
<use href="#m3cc280db12" x="297.0000" y="231.4800" style="fill: #ffa500; stroke: #ffa500"/>
<use href="#m3cc280db12" x="320.7600" y="230.7600" style="fill: #ffa500; stroke: #ffa500"/>
<use href="#m3cc280db12" x="344.5200" y="230.7600" style="fill: #ffa500; stroke: #ffa500"/>
<use href="#m3cc280db12" x="369.0000" y="230.0400" style="fill: #ffa500; stroke: #ffa500"/>
<use href="#m3cc280db12" x="392.7600" y="229.3200" style="fill: #ffa500; stroke: #ffa500"/>
<use href="#m3cc280db12" x="416.5200" y="229.3200" style="fill: #ffa500; stroke: #ffa500"/>
<use href="#m3cc280db12" x="440.2800" y="228.6000" style="fill: #ffa500; stroke: #ffa500"/>
<use href="#m3cc280db12" x="464.7600" y="227.8800" style="fill: #ffa500; stroke: #ffa500"/>
<use href="#m3cc280db12" x="488.5200" y="227.1600" style="fill: #ffa500; stroke: #ffa500"/>
<use href="#m3cc280db12" x="512.2800" y="227.1600" style="fill: #ffa500; stroke: #ffa500"/>
<use href="#m3cc280db12" x="536.0400" y="226.4400" style="fill: #ffa500; stroke: #ffa500"/>
<use href="#m3cc280db12" x="559.8000" y="225.7200" style="fill: #ffa500; stroke: #ffa500"/>
<use href="#m3cc280db12" x="584.2800" y="225.7200" style="fill: #ffa500; stroke: #ffa500"/>
<use href="#m3cc280db12" x="608.0400" y="225.0000" style="fill: #ffa500; stroke: #ffa500"/>
<use href="#m3cc280db12" x="631.8000" y="224.2800" style="fill: #ffa500; stroke: #ffa500"/>
<use href="#m3cc280db12" x="655.5600" y="224.2800" style="fill: #ffa500; stroke: #ffa500"/>
<use href="#m3cc280db12" x="679.3200" y="223.5600" style="fill: #ffa500; stroke: #ffa500"/>
</g>
</g>
<g id="line2d_71">
<path d="M 81.409091 149.846893
L 105.323564 145.524033
L 129.238036 141.201172
L 153.152509 136.878312
L 177.066982 132.555452
L 200.981455 128.232591
L 224.895927 123.909731
L 248.8104 119.58687
L 272.724873 115.26401
L 296.639345 110.941149
L 320.553818 106.618289
L 344.468291 102.295428
L 368.382764 97.972568
L 392.297236 93.649707
L 416.211709 89.326847
L 440.126182 85.003986
L 464.040655 80.681126
L 487.955127 76.358266
L 511.8696 72.035405
L 535.784073 67.712545
L 559.698545 63.389684
L 583.613018 59.066824
L 607.527491 54.743963
L 631.441964 50.421103
L 655.356436 46.098242
L 679.270909 41.775382
" clip-path="url(#p26bf94b5a2)" style="fill: none; stroke: #ff4d4d; stroke-width: 1.5; stroke-linecap: square"/>
<defs>
<path id="m071e3672fa" d="M 0 3
C 0.795609 3 1.55874 2.683901 2.12132 2.12132
C 2.683901 1.55874 3 0.795609 3 0
C 3 -0.795609 2.683901 -1.55874 2.12132 -2.12132
C 1.55874 -2.683901 0.795609 -3 0 -3
C -0.795609 -3 -1.55874 -2.683901 -2.12132 -2.12132
C -2.683901 -1.55874 -3 -0.795609 -3 0
C -3 0.795609 -2.683901 1.55874 -2.12132 2.12132
C -1.55874 2.683901 -0.795609 3 0 3
z
" style="stroke: #ff4d4d"/>
</defs>
<g clip-path="url(#p26bf94b5a2)">
<use href="#m071e3672fa" x="81.7200" y="150.1200" style="fill: #ff4d4d; stroke: #ff4d4d"/>
<use href="#m071e3672fa" x="105.4800" y="145.8000" style="fill: #ff4d4d; stroke: #ff4d4d"/>
<use href="#m071e3672fa" x="129.2400" y="141.4800" style="fill: #ff4d4d; stroke: #ff4d4d"/>
<use href="#m071e3672fa" x="153.7200" y="137.1600" style="fill: #ff4d4d; stroke: #ff4d4d"/>
<use href="#m071e3672fa" x="177.4800" y="132.8400" style="fill: #ff4d4d; stroke: #ff4d4d"/>
<use href="#m071e3672fa" x="201.2400" y="128.5200" style="fill: #ff4d4d; stroke: #ff4d4d"/>
<use href="#m071e3672fa" x="225.0000" y="124.2000" style="fill: #ff4d4d; stroke: #ff4d4d"/>
<use href="#m071e3672fa" x="249.4800" y="119.8800" style="fill: #ff4d4d; stroke: #ff4d4d"/>
<use href="#m071e3672fa" x="273.2400" y="115.5600" style="fill: #ff4d4d; stroke: #ff4d4d"/>
<use href="#m071e3672fa" x="297.0000" y="111.2400" style="fill: #ff4d4d; stroke: #ff4d4d"/>
<use href="#m071e3672fa" x="320.7600" y="106.9200" style="fill: #ff4d4d; stroke: #ff4d4d"/>
<use href="#m071e3672fa" x="344.5200" y="102.6000" style="fill: #ff4d4d; stroke: #ff4d4d"/>
<use href="#m071e3672fa" x="369.0000" y="98.2800" style="fill: #ff4d4d; stroke: #ff4d4d"/>
<use href="#m071e3672fa" x="392.7600" y="93.9600" style="fill: #ff4d4d; stroke: #ff4d4d"/>
<use href="#m071e3672fa" x="416.5200" y="89.6400" style="fill: #ff4d4d; stroke: #ff4d4d"/>
<use href="#m071e3672fa" x="440.2800" y="85.3200" style="fill: #ff4d4d; stroke: #ff4d4d"/>
<use href="#m071e3672fa" x="464.7600" y="81.0000" style="fill: #ff4d4d; stroke: #ff4d4d"/>
<use href="#m071e3672fa" x="488.5200" y="76.6800" style="fill: #ff4d4d; stroke: #ff4d4d"/>
<use href="#m071e3672fa" x="512.2800" y="72.3600" style="fill: #ff4d4d; stroke: #ff4d4d"/>
<use href="#m071e3672fa" x="536.0400" y="68.0400" style="fill: #ff4d4d; stroke: #ff4d4d"/>
<use href="#m071e3672fa" x="559.8000" y="63.7200" style="fill: #ff4d4d; stroke: #ff4d4d"/>
<use href="#m071e3672fa" x="584.2800" y="59.4000" style="fill: #ff4d4d; stroke: #ff4d4d"/>
<use href="#m071e3672fa" x="608.0400" y="55.0800" style="fill: #ff4d4d; stroke: #ff4d4d"/>
<use href="#m071e3672fa" x="631.8000" y="50.7600" style="fill: #ff4d4d; stroke: #ff4d4d"/>
<use href="#m071e3672fa" x="655.5600" y="46.4400" style="fill: #ff4d4d; stroke: #ff4d4d"/>
<use href="#m071e3672fa" x="679.3200" y="42.1200" style="fill: #ff4d4d; stroke: #ff4d4d"/>
</g>
</g>
<g id="line2d_72">
<path d="M 81.409091 343.475018
L 105.323564 341.133469
L 129.238036 338.791919
L 153.152509 336.45037
L 177.066982 334.108821
L 200.981455 331.767271
L 224.895927 329.425722
L 248.8104 327.084172
L 272.724873 324.742623
L 296.639345 322.401073
L 320.553818 320.059524
L 344.468291 317.717975
L 368.382764 315.376425
L 392.297236 313.034876
L 416.211709 310.693326
L 440.126182 308.351777
L 464.040655 306.010228
L 487.955127 303.668678
L 511.8696 301.327129
L 535.784073 298.985579
L 559.698545 296.64403
L 583.613018 294.30248
L 607.527491 291.960931
L 631.441964 289.619382
L 655.356436 287.277832
L 679.270909 284.936283
" clip-path="url(#p26bf94b5a2)" style="fill: none; stroke: #4d96ff; stroke-width: 1.5; stroke-linecap: square"/>
<defs>
<path id="mcde957ec9b" d="M 0 3
C 0.795609 3 1.55874 2.683901 2.12132 2.12132
C 2.683901 1.55874 3 0.795609 3 0
C 3 -0.795609 2.683901 -1.55874 2.12132 -2.12132
C 1.55874 -2.683901 0.795609 -3 0 -3
C -0.795609 -3 -1.55874 -2.683901 -2.12132 -2.12132
C -2.683901 -1.55874 -3 -0.795609 -3 0
C -3 0.795609 -2.683901 1.55874 -2.12132 2.12132
C -1.55874 2.683901 -0.795609 3 0 3
z
" style="stroke: #4d96ff"/>
</defs>
<g clip-path="url(#p26bf94b5a2)">
<use href="#mcde957ec9b" x="81.7200" y="343.8000" style="fill: #4d96ff; stroke: #4d96ff"/>
<use href="#mcde957ec9b" x="105.4800" y="341.6400" style="fill: #4d96ff; stroke: #4d96ff"/>
<use href="#mcde957ec9b" x="129.2400" y="339.4800" style="fill: #4d96ff; stroke: #4d96ff"/>
<use href="#mcde957ec9b" x="153.7200" y="336.6000" style="fill: #4d96ff; stroke: #4d96ff"/>
<use href="#mcde957ec9b" x="177.4800" y="334.4400" style="fill: #4d96ff; stroke: #4d96ff"/>
<use href="#mcde957ec9b" x="201.2400" y="332.2800" style="fill: #4d96ff; stroke: #4d96ff"/>
<use href="#mcde957ec9b" x="225.0000" y="330.1200" style="fill: #4d96ff; stroke: #4d96ff"/>
<use href="#mcde957ec9b" x="249.4800" y="327.2400" style="fill: #4d96ff; stroke: #4d96ff"/>
<use href="#mcde957ec9b" x="273.2400" y="325.0800" style="fill: #4d96ff; stroke: #4d96ff"/>
<use href="#mcde957ec9b" x="297.0000" y="322.9200" style="fill: #4d96ff; stroke: #4d96ff"/>
<use href="#mcde957ec9b" x="320.7600" y="320.7600" style="fill: #4d96ff; stroke: #4d96ff"/>
<use href="#mcde957ec9b" x="344.5200" y="317.8800" style="fill: #4d96ff; stroke: #4d96ff"/>
<use href="#mcde957ec9b" x="369.0000" y="315.7200" style="fill: #4d96ff; stroke: #4d96ff"/>
<use href="#mcde957ec9b" x="392.7600" y="313.5600" style="fill: #4d96ff; stroke: #4d96ff"/>
<use href="#mcde957ec9b" x="416.5200" y="311.4000" style="fill: #4d96ff; stroke: #4d96ff"/>
<use href="#mcde957ec9b" x="440.2800" y="308.5200" style="fill: #4d96ff; stroke: #4d96ff"/>
<use href="#mcde957ec9b" x="464.7600" y="306.3600" style="fill: #4d96ff; stroke: #4d96ff"/>
<use href="#mcde957ec9b" x="488.5200" y="304.2000" style="fill: #4d96ff; stroke: #4d96ff"/>
<use href="#mcde957ec9b" x="512.2800" y="302.0400" style="fill: #4d96ff; stroke: #4d96ff"/>
<use href="#mcde957ec9b" x="536.0400" y="299.1600" style="fill: #4d96ff; stroke: #4d96ff"/>
<use href="#mcde957ec9b" x="559.8000" y="297.0000" style="fill: #4d96ff; stroke: #4d96ff"/>
<use href="#mcde957ec9b" x="584.2800" y="294.8400" style="fill: #4d96ff; stroke: #4d96ff"/>
<use href="#mcde957ec9b" x="608.0400" y="292.6800" style="fill: #4d96ff; stroke: #4d96ff"/>
<use href="#mcde957ec9b" x="631.8000" y="289.8000" style="fill: #4d96ff; stroke: #4d96ff"/>
<use href="#mcde957ec9b" x="655.5600" y="287.6400" style="fill: #4d96ff; stroke: #4d96ff"/>
<use href="#mcde957ec9b" x="679.3200" y="285.4800" style="fill: #4d96ff; stroke: #4d96ff"/>
</g>
</g>
<g id="patch_3">
<path d="M 52.2000 358.9200 L 52.2000 27.0000" style="fill: none; stroke: #000000; stroke-width: 0.8; stroke-linejoin: miter; stroke-linecap: square"/>
</g>
<g id="patch_4">
<path d="M 709.5600 358.9200 L 709.5600 27.0000" style="fill: none; stroke: #000000; stroke-width: 0.8; stroke-linejoin: miter; stroke-linecap: square"/>
</g>
<g id="patch_5">
<path d="M 52.2000 358.9200 L 709.5600 358.9200" style="fill: none; stroke: #000000; stroke-width: 0.8; stroke-linejoin: miter; stroke-linecap: square"/>
</g>
<g id="patch_6">
<path d="M 52.2000 27.0000 L 709.5600 27.0000" style="fill: none; stroke: #000000; stroke-width: 0.8; stroke-linejoin: miter; stroke-linecap: square"/>
</g>
<g id="text_37" transform="translate(-0.2160 0.8640)">
<!-- 伝説の決闘場/TDPR/SR 価格推移(過去30日間) -->
<g transform="translate(257.34 20.6904) scale(0.12 -0.12)">
<defs>
<path id="IPAGothic-4f1d" d="M 1509 3694
L 1509 -447
L 1056 -447
L 1056 2703
Q 800 2241 538 1869
L 281 2259
Q 1141 3513 1534 5319
L 1963 5219
Q 1788 4419 1509 3694
z
M 2444 334
Q 2450 344 2516 494
Q 2944 1459 3219 2606
L 1831 2606
L 1831 3034
L 5978 3034
L 5978 2606
L 3756 2606
Q 3753 2591 3744 2566
Q 3734 2541 3731 2534
Q 3378 1266 2956 378
Q 4313 488 4966 578
Q 4622 1188 4263 1728
L 4653 1941
Q 5381 953 5919 -134
L 5459 -403
Q 5369 -203 5159 219
Q 3978 -9 2041 -197
L 1863 297
Q 2003 303 2188 316
Q 2347 325 2388 328
Q 2406 334 2444 334
z
M 2291 4788
L 5522 4788
L 5522 4359
L 2291 4359
L 2291 4788
z
" transform="scale(0.015625)"/>
<path id="IPAGothic-8aac" d="M 3541 1947
L 2900 1947
L 2900 3859
L 4406 3859
Q 4741 4516 4969 5241
L 5438 5063
Q 5166 4434 4847 3859
L 5756 3859
L 5756 1947
L 4956 1947
L 4956 281
Q 4956 94 5213 94
Q 5553 94 5603 241
Q 5656 431 5666 1000
L 6109 838
Q 6100 9 5947 -181
Q 5794 -353 5244 -353
Q 4884 -353 4734 -303
Q 4516 -225 4516 91
L 4516 1947
L 3981 1947
Q 3981 1219 3816 709
Q 3594 25 2875 -453
L 2534 -116
Q 3200 275 3406 897
Q 3541 1291 3541 1934
L 3541 1947
z
M 5322 2338
L 5322 3463
L 3334 3463
L 3334 2338
L 5322 2338
z
M 2394 1684
L 2394 -128
L 959 -128
L 959 -447
L 538 -447
L 538 1684
L 2394 1684
z
M 959 1313
L 959 244
L 1978 244
L 1978 1313
L 959 1313
z
M 634 5044
L 2306 5044
L 2306 4659
L 634 4659
L 634 5044
z
M 353 4206
L 2631 4206
L 2631 3816
L 353 3816
L 353 4206
z
M 634 3359
L 2306 3359
L 2306 2975
L 634 2975
L 634 3359
z
M 634 2522
L 2306 2522
L 2306 2138
L 634 2138
L 634 2522
z
M 3578 3988
Q 3347 4569 3084 4966
L 3481 5166
Q 3769 4747 4000 4191
L 3578 3988
z
" transform="scale(0.015625)"/>
<path id="IPAGothic-306e" d="M 3119 469
Q 5275 766 5275 2425
Q 5275 3453 4413 3922
Q 4041 4113 3547 4159
Q 3394 2525 2850 1400
Q 2322 306 1722 306
Q 1384 306 1084 666
Q 609 1244 609 2003
Q 609 3025 1397 3794
Q 2184 4563 3431 4563
Q 4306 4563 4928 4122
Q 5813 3506 5813 2425
Q 5813 438 3431 6
L 3119 469
z
M 3053 4147
Q 2378 4044 1891 3641
Q 1097 2981 1097 1991
Q 1097 1366 1434 978
Q 1581 813 1719 813
Q 2022 813 2416 1625
Q 2909 2638 3053 4147
z
" transform="scale(0.015625)"/>
<path id="IPAGothic-6c7a" d="M 4116 2081
Q 4659 809 6003 84
L 5656 -338
Q 4281 500 3775 1884
Q 3766 1853 3756 1806
Q 3497 394 2081 -441
L 1741 -38
Q 3141 625 3391 2081
L 1972 2081
L 1972 2497
L 3422 2497
L 3422 3750
L 2322 3750
L 2322 4153
L 3422 4153
L 3422 5313
L 3891 5313
L 3891 4153
L 5234 4153
L 5234 2497
L 6003 2497
L 6003 2081
L 4116 2081
z
M 4788 3750
L 3891 3750
L 3891 2497
L 4788 2497
L 4788 3750
z
M 1691 3769
Q 1203 4344 703 4709
L 1025 5044
Q 1544 4675 2022 4147
L 1691 3769
z
M 1453 2278
Q 1016 2772 441 3206
L 756 3547
Q 1278 3188 1778 2656
L 1453 2278
z
M 391 19
Q 1063 800 1613 1966
L 1966 1656
Q 1394 428 750 -397
L 391 19
z
" transform="scale(0.015625)"/>
<path id="IPAGothic-95d8" d="M 4344 2406
L 4344 3138
L 4741 3138
L 4741 2406
L 5216 2406
L 5216 2053
L 4763 2053
L 4763 313
Q 4763 -63 4313 -63
Q 3975 -63 3678 -19
L 3609 359
Q 4028 309 4216 309
Q 4366 309 4366 453
L 4366 2053
L 3347 2053
L 3347 2406
L 4344 2406
z
M 2919 5056
L 2919 3275
L 991 3275
L 991 -447
L 550 -447
L 550 5056
L 2919 5056
z
M 991 4709
L 991 4325
L 2509 4325
L 2509 4709
L 991 4709
z
M 991 4013
L 991 3616
L 2509 3616
L 2509 4013
L 991 4013
z
M 5844 5056
L 5844 31
Q 5844 -409 5359 -409
Q 5063 -409 4788 -378
L 4700 63
Q 4994 19 5244 19
Q 5403 19 5403 184
L 5403 3275
L 3431 3275
L 3431 5056
L 5844 5056
z
M 3841 4709
L 3841 4325
L 5403 4325
L 5403 4709
L 3841 4709
z
M 3841 4013
L 3841 3616
L 5403 3616
L 5403 4013
L 3841 4013
z
M 3206 2266
L 3206 1281
L 1441 1281
L 1441 2266
L 3206 2266
z
M 1813 1991
L 1813 1556
L 2834 1556
L 2834 1991
L 1813 1991
z
M 2419 447
Q 2584 784 2713 1216
L 3109 1113
Q 2938 722 2816 519
Q 3163 575 3500 641
L 3525 341
Q 2406 72 1394 -78
L 1241 288
Q 1716 341 2419 447
z
M 1253 2925
L 3366 2925
L 3366 2594
L 1253 2594
L 1253 2925
z
M 1784 428
Q 1694 703 1528 1044
L 1881 1184
Q 2047 878 2156 581
L 1784 428
z
M 3813 738
Q 3663 1266 3425 1691
L 3744 1844
Q 3972 1447 4159 909
L 3813 738
z
" transform="scale(0.015625)"/>
<path id="IPAGothic-5834" d="M 5028 1588
Q 4619 319 3603 -506
L 3250 -213
Q 4253 509 4606 1588
L 4147 1588
Q 3678 622 2675 -97
L 2350 219
Q 3244 775 3713 1588
L 3219 1588
Q 2806 1041 2184 628
L 1869 953
Q 2769 1500 3238 2363
L 2247 2363
L 2247 2741
L 6078 2741
L 6078 2363
L 3694 2363
Q 3572 2109 3475 1953
L 5859 1953
Q 5813 400 5650 -69
Q 5516 -453 4997 -453
Q 4709 -453 4409 -422
L 4306 38
Q 4678 -31 4928 -31
Q 5197 -31 5266 269
Q 5356 700 5413 1588
L 5028 1588
z
M 1138 3859
L 1138 5209
L 1584 5209
L 1584 3859
L 2375 3859
L 2375 3431
L 1584 3431
L 1584 1672
Q 1953 1866 2350 2106
L 2444 1722
Q 1406 1047 509 628
L 300 1063
Q 738 1244 1059 1403
L 1138 1441
L 1138 3431
L 363 3431
L 363 3859
L 1138 3859
z
M 5441 5088
L 5441 3097
L 2797 3097
L 2797 5088
L 5441 5088
z
M 3219 4728
L 3219 4281
L 5019 4281
L 5019 4728
L 3219 4728
z
M 3219 3928
L 3219 3456
L 5019 3456
L 5019 3928
L 3219 3928
z
" transform="scale(0.015625)"/>
<path id="IPAGothic-2f" d="M 2750 5259
L 3006 5147
L 441 -403
L 184 -288
L 2750 5259
z
" transform="scale(0.015625)"/>
<path id="IPAGothic-54" d="M 250 4806
L 2950 4806
L 2950 4306
L 1869 4306
L 1869 325
L 1331 325
L 1331 4306
L 250 4306
L 250 4806
z
" transform="scale(0.015625)"/>
<path id="IPAGothic-44" d="M 172 325
L 172 800
L 538 800
L 538 4331
L 172 4331
L 172 4806
L 1331 4806
Q 2094 4806 2503 4275
Q 2906 3753 2906 2638
Q 2906 1481 2534 941
Q 2113 325 1363 325
L 172 325
z
M 1050 4331
L 1050 800
L 1344 800
Q 2381 800 2381 2638
Q 2381 3550 2084 3963
Q 1822 4331 1306 4331
L 1050 4331
z
" transform="scale(0.015625)"/>
<path id="IPAGothic-50" d="M 447 4806
L 1569 4806
Q 2122 4806 2466 4550
Q 2919 4200 2919 3544
Q 2919 2753 2278 2409
Q 1975 2244 1581 2244
L 959 2244
L 959 325
L 447 325
L 447 4806
z
M 959 4319
L 959 2731
L 1528 2731
Q 2394 2731 2394 3538
Q 2394 4009 2009 4209
Q 1803 4319 1528 4319
L 959 4319
z
" transform="scale(0.015625)"/>
<path id="IPAGothic-52" d="M 447 4806
L 1556 4806
Q 2097 4806 2438 4563
Q 2872 4244 2872 3641
Q 2872 2759 2034 2500
L 2994 325
L 2406 325
L 1534 2416
L 947 2416
L 947 325
L 447 325
L 447 4806
z
M 947 4331
L 947 2875
L 1484 2875
Q 1766 2875 1975 2991
Q 2359 3191 2359 3628
Q 2359 4331 1478 4331
L 947 4331
z
" transform="scale(0.015625)"/>
<path id="IPAGothic-53" d="M 831 1613
Q 869 666 1650 666
Q 1931 666 2119 806
Q 2381 1009 2381 1375
Q 2381 1769 2053 2069
Q 1828 2269 1281 2584
Q 416 3094 416 3800
Q 416 4247 697 4556
Q 1038 4934 1606 4934
Q 2666 4934 2809 3659
L 2284 3659
Q 2263 3953 2163 4128
Q 1963 4481 1606 4481
Q 1238 4481 1056 4231
Q 928 4053 928 3841
Q 928 3334 1753 2853
Q 2263 2556 2534 2284
Q 2900 1928 2900 1381
Q 2900 866 2572 550
Q 2222 197 1666 197
Q 969 197 581 709
Q 313 1066 294 1613
L 831 1613
z
" transform="scale(0.015625)"/>
<path id="IPAGothic-4fa1" d="M 3144 3397
L 3144 4416
L 1831 4416
L 1831 4825
L 6081 4825
L 6081 4416
L 4713 4416
L 4713 3397
L 5850 3397
L 5850 -384
L 5416 -384
L 5416 0
L 2463 0
L 2463 -384
L 2034 -384
L 2034 3397
L 3144 3397
z
M 3572 3397
L 4281 3397
L 4281 4416
L 3572 4416
L 3572 3397
z
M 3169 3013
L 2463 3013
L 2463 391
L 3169 391
L 3169 3013
z
M 3572 3013
L 3572 391
L 4281 391
L 4281 3013
L 3572 3013
z
M 4684 3013
L 4684 391
L 5416 391
L 5416 3013
L 4684 3013
z
M 1394 3816
L 1394 -447
L 966 -447
L 966 2797
Q 756 2369 478 1972
L 244 2369
Q 950 3472 1375 5313
L 1809 5203
Q 1588 4344 1394 3816
z
" transform="scale(0.015625)"/>
<path id="IPAGothic-683c" d="M 1281 2650
Q 978 1569 500 806
L 231 1269
Q 866 2141 1231 3584
L 366 3584
L 366 3988
L 1281 3988
L 1281 5306
L 1716 5306
L 1716 3988
L 2534 3988
L 2534 3584
L 1716 3584
L 1716 3072
Q 2163 2719 2572 2331
L 2328 1953
Q 2059 2291 1716 2625
L 1716 -447
L 1281 -447
L 1281 2650
z
M 2938 1747
Q 2716 1613 2516 1509
L 2247 1841
Q 3244 2341 3963 3078
Q 3669 3369 3353 3841
Q 3028 3344 2638 2969
L 2356 3281
Q 3213 4131 3538 5300
L 3956 5184
Q 3834 4813 3834 4806
L 5250 4806
L 5478 4606
Q 5016 3650 4531 3091
Q 5238 2509 6131 2144
L 5838 1731
Q 5766 1766 5516 1900
L 5459 1931
L 5459 -447
L 5019 -447
L 5019 -128
L 3378 -128
L 3378 -447
L 2938 -447
L 2938 1747
z
M 3225 1931
L 5459 1931
Q 5416 1959 5325 2009
Q 4738 2344 4263 2781
Q 3906 2400 3225 1931
z
M 5019 1547
L 3378 1547
L 3378 263
L 5019 263
L 5019 1547
z
M 3672 4422
Q 3625 4331 3556 4184
Q 3825 3781 4225 3372
Q 4588 3809 4903 4422
L 3672 4422
z
" transform="scale(0.015625)"/>
<path id="IPAGothic-63a8" d="M 3244 4063
L 4244 4063
Q 4484 4581 4653 5228
L 5125 5100
Q 4913 4484 4691 4063
L 5906 4063
L 5906 3666
L 4647 3666
L 4647 2822
L 5747 2822
L 5747 2438
L 4647 2438
L 4647 1594
L 5747 1594
L 5747 1216
L 4647 1216
L 4647 319
L 6047 319
L 6047 -91
L 3244 -91
L 3244 -481
L 2816 -481
L 2816 3188
L 2791 3128
Q 2581 2744 2366 2463
L 2084 2797
Q 2813 3728 3166 5284
L 3616 5144
Q 3428 4494 3244 4063
z
M 3244 319
L 4231 319
L 4231 1216
L 3244 1216
L 3244 319
z
M 3244 1594
L 4231 1594
L 4231 2438
L 3244 2438
L 3244 1594
z
M 3244 2822
L 4231 2822
L 4231 3666
L 3244 3666
L 3244 2822
z
M 1184 4084
L 1184 5313
L 1613 5313
L 1613 4084
L 2328 4084
L 2328 3669
L 1613 3669
L 1613 2241
Q 1997 2341 2334 2453
L 2359 2069
Q 1809 1884 1631 1831
L 1613 1825
L 1613 44
Q 1613 -194 1522 -294
Q 1413 -403 1081 -403
Q 738 -403 519 -366
L 441 97
Q 741 38 978 38
Q 1184 38 1184 219
L 1184 1703
L 1144 1697
Q 738 1584 409 1509
L 275 1941
Q 722 2022 1138 2119
Q 1147 2122 1166 2125
Q 1175 2128 1184 2131
L 1184 3669
L 372 3669
L 372 4084
L 1184 4084
z
" transform="scale(0.015625)"/>
<path id="IPAGothic-79fb" d="M 4691 2419
L 5844 2419
L 6066 2188
Q 5503 1156 4759 513
Q 4078 -75 2975 -469
L 2681 -97
Q 3684 194 4384 728
Q 4094 1056 3731 1356
Q 3381 1053 2919 819
L 2669 1150
Q 3853 1772 4500 2878
L 4909 2772
Q 4772 2528 4691 2419
z
M 4409 2034
Q 4216 1803 4000 1588
Q 4375 1341 4703 1009
Q 5219 1488 5497 2034
L 4409 2034
z
M 1350 2328
Q 1009 1334 513 659
L 263 1081
Q 966 2022 1266 3128
L 366 3128
L 366 3531
L 1350 3531
L 1350 4400
Q 919 4322 575 4266
L 366 4644
Q 1506 4806 2381 5144
L 2700 4747
Q 2241 4600 1784 4491
L 1784 3531
L 2619 3531
L 2619 3128
L 1784 3128
L 1784 2688
Q 2303 2266 2722 1803
L 2444 1356
Q 2103 1841 1784 2181
L 1784 -447
L 1350 -447
L 1350 2328
z
M 4275 4800
L 5491 4800
L 5709 4609
Q 4759 2809 2872 2047
L 2603 2388
Q 3534 2722 4134 3244
Q 3869 3519 3450 3794
Q 3184 3569 2859 3359
L 2591 3666
Q 3578 4259 4056 5288
L 4478 5191
Q 4403 5034 4275 4800
z
M 4019 4416
Q 3856 4194 3700 4038
Q 4128 3759 4372 3553
L 4416 3513
Q 4884 3991 5119 4416
L 4019 4416
z
" transform="scale(0.015625)"/>
<path id="IPAGothic-904e" d="M 1703 741
Q 1975 363 2503 209
Q 2906 94 3931 94
Q 4897 94 6131 178
Q 6025 -59 5978 -300
Q 4931 -341 4384 -341
Q 2819 -341 2234 -128
Q 1763 44 1525 397
Q 1113 -81 653 -447
L 372 19
Q 900 341 1269 672
L 1269 2303
L 378 2303
L 378 2731
L 1703 2731
L 1703 741
z
M 5338 2778
L 2594 2778
L 2594 428
L 2178 428
L 2178 3138
L 2594 3138
L 2594 5025
L 5338 5025
L 5338 3138
L 5753 3138
L 5753 875
Q 5753 597 5638 513
Q 5547 441 5313 441
Q 5019 441 4713 478
L 4659 903
Q 4956 850 5184 850
Q 5338 850 5338 1016
L 5338 2778
z
M 4934 3138
L 4934 3784
L 4041 3784
L 4041 3138
L 4934 3138
z
M 3663 3138
L 3663 4116
L 4934 4116
L 4934 4666
L 3003 4666
L 3003 3138
L 3663 3138
z
M 4750 2350
L 4750 1113
L 3469 1113
L 3469 781
L 3091 781
L 3091 2350
L 4750 2350
z
M 3469 2019
L 3469 1453
L 4372 1453
L 4372 2019
L 3469 2019
z
M 1525 3775
Q 1053 4353 563 4738
L 878 5056
Q 1497 4566 1869 4122
L 1525 3775
z
" transform="scale(0.015625)"/>
<path id="IPAGothic-53bb" d="M 3009 2169
Q 3003 2150 2988 2131
Q 2634 1163 2144 344
L 2375 363
Q 3003 400 3963 497
L 4697 575
Q 4322 1025 3909 1419
L 4281 1650
Q 5041 956 5834 -34
L 5431 -347
Q 5347 -234 5200 -47
Q 5038 163 4991 222
Q 3384 -22 959 -213
L 800 269
Q 888 272 1153 288
Q 1428 303 1606 313
L 1656 403
Q 2147 1250 2491 2169
L 447 2169
L 447 2584
L 2931 2584
L 2931 3744
L 959 3744
L 959 4159
L 2931 4159
L 2931 5216
L 3419 5216
L 3419 4159
L 5438 4159
L 5438 3744
L 3419 3744
L 3419 2584
L 5950 2584
L 5950 2169
L 3009 2169
z
" transform="scale(0.015625)"/>
<path id="IPAGothic-9593" d="M 4450 2566
L 4450 353
L 2375 353
L 2375 -25
L 1953 -25
L 1953 2566
L 4450 2566
z
M 4028 2200
L 2375 2200
L 2375 1653
L 4028 1653
L 4028 2200
z
M 4028 1300
L 2375 1300
L 2375 719
L 4028 719
L 4028 1300
z
M 2913 5019
L 2913 3059
L 1056 3059
L 1056 -447
L 609 -447
L 609 5019
L 2913 5019
z
M 1056 4659
L 1056 4206
L 2497 4206
L 2497 4659
L 1056 4659
z
M 1056 3881
L 1056 3413
L 2497 3413
L 2497 3881
L 1056 3881
z
M 5788 5019
L 5788 91
Q 5788 -225 5641 -331
Q 5525 -409 5231 -409
Q 4800 -409 4481 -366
L 4419 97
Q 4853 38 5128 38
Q 5341 38 5341 244
L 5341 3059
L 3438 3059
L 3438 5019
L 5788 5019
z
M 3853 4659
L 3853 4206
L 5341 4206
L 5341 4659
L 3853 4659
z
M 3853 3881
L 3853 3413
L 5341 3413
L 5341 3881
L 3853 3881
z
" transform="scale(0.015625)"/>
</defs>
<use href="#IPAGothic-4f1d"/>
<use href="#IPAGothic-8aac" transform="translate(100 0)"/>
<use href="#IPAGothic-306e" transform="translate(200 0)"/>
<use href="#IPAGothic-6c7a" transform="translate(300 0)"/>
<use href="#IPAGothic-95d8" transform="translate(400 0)"/>
<use href="#IPAGothic-5834" transform="translate(500 0)"/>
<use href="#IPAGothic-2f" transform="translate(600 0)"/>
<use href="#IPAGothic-54" transform="translate(650 0)"/>
<use href="#IPAGothic-44" transform="translate(700 0)"/>
<use href="#IPAGothic-50" transform="translate(750 0)"/>
<use href="#IPAGothic-52" transform="translate(800 0)"/>
<use href="#IPAGothic-2f" transform="translate(850 0)"/>
<use href="#IPAGothic-53" transform="translate(900 0)"/>
<use href="#IPAGothic-52" transform="translate(950 0)"/>
<use href="#IPAGothic-20" transform="translate(1000 0)"/>
<use href="#IPAGothic-4fa1" transform="translate(1050 0)"/>
<use href="#IPAGothic-683c" transform="translate(1150 0)"/>
<use href="#IPAGothic-63a8" transform="translate(1250 0)"/>
<use href="#IPAGothic-79fb" transform="translate(1350 0)"/>
<use href="#IPAGothic-28" transform="translate(1450 0)"/>
<use href="#IPAGothic-904e" transform="translate(1500 0)"/>
<use href="#IPAGothic-53bb" transform="translate(1600 0)"/>
<use href="#IPAGothic-33" transform="translate(1700 0)"/>
<use href="#IPAGothic-30" transform="translate(1750 0)"/>
<use href="#IPAGothic-65e5" transform="translate(1800 0)"/>
<use href="#IPAGothic-9593" transform="translate(1900 0)"/>
<use href="#IPAGothic-29" transform="translate(2000 0)"/>
</g>
</g>
<g id="legend_1">
<g id="patch_7">
<path d="M 58.5200 92.5200 L 120.7600 92.5200 Q 122.7600 92.5200 122.7600 90.5200 L 122.7600 34.0400 Q 122.7600 32.0400 120.7600 32.0400 L 58.5200 32.0400 Q 56.5200 32.0400 56.5200 34.0400 L 56.5200 90.5200 Q 56.5200 92.5200 58.5200 92.5200 z" style="fill: #ffffff; opacity: 0.8; stroke: #cccccc; stroke-linejoin: miter"/>
</g>
<g id="line2d_73">
<path d="M 60.516 40.3200
L 70.516 40.3200
L 80.516 40.3200
" style="fill: none; stroke: #33cc66; stroke-width: 1.5; stroke-linecap: square"/>
<g>
<use href="#med5955925c" x="70.9200" y="40.6800" style="fill: #33cc66; stroke: #33cc66"/>
</g>
</g>
<g id="text_38" transform="translate(0.3600 0.2880)">
<!-- 平均値 -->
<g transform="translate(88.516 43.781025) scale(0.1 -0.1)">
<defs>
<path id="IPAGothic-5e73" d="M 3419 4428
L 3419 1941
L 6078 1941
L 6078 1513
L 3419 1513
L 3419 -447
L 2931 -447
L 2931 1513
L 319 1513
L 319 1941
L 2931 1941
L 2931 4428
L 638 4428
L 638 4856
L 5759 4856
L 5759 4428
L 3419 4428
z
M 1728 2278
Q 1488 3094 1081 3859
L 1541 4038
Q 1872 3422 2219 2472
L 1728 2278
z
M 4134 2425
Q 4506 3138 4813 4128
L 5303 3944
Q 4984 3006 4569 2228
L 4134 2425
z
" transform="scale(0.015625)"/>
<path id="IPAGothic-5747" d="M 1206 3794
L 1206 5147
L 1659 5147
L 1659 3794
L 2369 3794
L 2369 3372
L 1659 3372
L 1659 1325
Q 2081 1516 2481 1722
L 2566 1313
Q 1556 778 559 397
L 334 838
Q 803 975 1206 1138
L 1206 3372
L 413 3372
L 413 3794
L 1206 3794
z
M 3475 4244
L 5844 4244
Q 5834 1131 5619 184
Q 5494 -366 4838 -366
Q 4369 -366 3859 -306
L 3769 184
Q 4241 88 4731 88
Q 5059 88 5147 306
Q 5359 919 5369 3828
L 3316 3828
Q 3013 3119 2466 2472
L 2150 2828
Q 2944 3788 3259 5263
L 3719 5147
Q 3619 4663 3475 4244
z
M 2978 2847
L 4681 2847
L 4681 2431
L 2978 2431
L 2978 2847
z
M 2559 1044
Q 3747 1338 4838 1797
L 4891 1388
Q 3831 891 2766 588
L 2559 1044
z
" transform="scale(0.015625)"/>
</defs>
<use href="#IPAGothic-5e73"/>
<use href="#IPAGothic-5747" transform="translate(100 0)"/>
<use href="#IPAGothic-5024" transform="translate(200 0)"/>
</g>
</g>
<g id="line2d_74">
<path d="M 60.516 54.7200
L 70.516 54.7200
L 80.516 54.7200
" style="fill: none; stroke: #ffa500; stroke-width: 1.5; stroke-linecap: square"/>
<g>
<use href="#m3cc280db12" x="70.9200" y="55.0800" style="fill: #ffa500; stroke: #ffa500"/>
</g>
</g>
<g id="text_39" transform="translate(0.3600 0.6480)">
<!-- 中央値 -->
<g transform="translate(88.516 57.799775) scale(0.1 -0.1)">
<defs>
<path id="IPAGothic-4e2d" d="M 2925 3950
L 2925 5209
L 3425 5209
L 3425 3950
L 5613 3950
L 5613 1125
L 5125 1125
L 5125 1594
L 3425 1594
L 3425 -447
L 2925 -447
L 2925 1594
L 1263 1594
L 1263 1094
L 775 1094
L 775 3950
L 2925 3950
z
M 1263 3534
L 1263 2009
L 2925 2009
L 2925 3534
L 1263 3534
z
M 5125 2009
L 5125 3534
L 3425 3534
L 3425 2009
L 5125 2009
z
" transform="scale(0.015625)"/>
<path id="IPAGothic-592e" d="M 3578 1947
Q 4238 694 5972 134
L 5634 -294
Q 3847 378 3253 1750
Q 2916 216 809 -403
L 506 16
Q 2547 475 2894 1947
L 353 1947
L 353 2363
L 1256 2363
L 1256 4178
L 2938 4178
L 2938 5216
L 3413 5216
L 3413 4178
L 5141 4178
L 5141 2363
L 6044 2363
L 6044 1947
L 3578 1947
z
M 2938 3763
L 1703 3763
L 1703 2363
L 2938 2363
L 2938 3763
z
M 3413 3763
L 3413 2363
L 4688 2363
L 4688 3763
L 3413 3763
z
" transform="scale(0.015625)"/>
</defs>
<use href="#IPAGothic-4e2d"/>
<use href="#IPAGothic-592e" transform="translate(100 0)"/>
<use href="#IPAGothic-5024" transform="translate(200 0)"/>
</g>
</g>
<g id="line2d_75">
<path d="M 60.516 69.1200
L 70.516 69.1200
L 80.516 69.1200
" style="fill: none; stroke: #ff4d4d; stroke-width: 1.5; stroke-linecap: square"/>
<g>
<use href="#m071e3672fa" x="70.9200" y="69.4800" style="fill: #ff4d4d; stroke: #ff4d4d"/>
</g>
</g>
<g id="text_40" transform="translate(0.3600 0.9360)">
<!-- 最高値 -->
<g transform="translate(88.516 71.954462) scale(0.1 -0.1)">
<defs>
<path id="IPAGothic-6700" d="M 5106 5050
L 5106 3275
L 1288 3275
L 1288 5050
L 5106 5050
z
M 1741 4697
L 1741 4331
L 4659 4331
L 4659 4697
L 1741 4697
z
M 1741 4000
L 1741 3622
L 4659 3622
L 4659 4000
L 1741 4000
z
M 2925 2528
L 2925 -447
L 2503 -447
L 2503 231
Q 1875 97 525 -75
L 409 359
Q 491 363 609 372
Q 728 381 756 384
L 994 403
L 994 2528
L 384 2528
L 384 2900
L 6016 2900
L 6016 2528
L 2925 2528
z
M 2503 2528
L 1403 2528
L 1403 2088
L 2503 2088
L 2503 2528
z
M 2503 1763
L 1403 1763
L 1403 1309
L 2503 1309
L 2503 1763
z
M 2503 984
L 1403 984
L 1403 434
L 1763 472
Q 2159 500 2503 550
L 2503 984
z
M 4844 588
Q 5350 225 6047 -9
L 5753 -419
Q 5066 -128 4556 288
Q 4000 -241 3281 -534
L 3006 -163
Q 3738 84 4263 563
Q 3722 1141 3463 1803
L 3084 1803
L 3084 2169
L 5428 2169
L 5656 1963
Q 5328 1178 4881 638
L 4844 588
z
M 4538 850
Q 4884 1275 5119 1803
L 3872 1803
Q 4113 1275 4538 850
z
" transform="scale(0.015625)"/>
<path id="IPAGothic-9ad8" d="M 4481 1588
L 4481 366
L 2319 366
L 2319 0
L 1891 0
L 1891 1588
L 4481 1588
z
M 4053 1247
L 2319 1247
L 2319 706
L 4053 706
L 4053 1247
z
M 3419 4641
L 5916 4641
L 5916 4263
L 481 4263
L 481 4641
L 2938 4641
L 2938 5313
L 3419 5313
L 3419 4641
z
M 4884 3878
L 4884 2694
L 1513 2694
L 1513 3878
L 4884 3878
z
M 1959 3531
L 1959 3041
L 4438 3041
L 4438 3531
L 1959 3531
z
M 5684 2309
L 5684 103
Q 5684 -378 5091 -378
Q 4703 -378 4316 -350
L 4253 109
Q 4706 44 5006 44
Q 5231 44 5231 250
L 5231 1944
L 1166 1944
L 1166 -447
L 713 -447
L 713 2309
L 5684 2309
z
" transform="scale(0.015625)"/>
</defs>
<use href="#IPAGothic-6700"/>
<use href="#IPAGothic-9ad8" transform="translate(100 0)"/>
<use href="#IPAGothic-5024" transform="translate(200 0)"/>
</g>
</g>
<g id="line2d_76">
<path d="M 60.516 83.5200
L 70.516 83.5200
L 80.516 83.5200
" style="fill: none; stroke: #4d96ff; stroke-width: 1.5; stroke-linecap: square"/>
<g>
<use href="#mcde957ec9b" x="70.9200" y="83.8800" style="fill: #4d96ff; stroke: #4d96ff"/>
</g>
</g>
<g id="text_41" transform="translate(0.3600 1.0080)">
<!-- 最安値 -->
<g transform="translate(88.516 86.10915) scale(0.1 -0.1)">
<defs>
<path id="IPAGothic-5b89" d="M 4728 2381
Q 4484 1484 3969 872
Q 5038 403 5778 31
L 5397 -353
Q 4466 163 3616 538
Q 2703 -194 838 -403
L 550 31
Q 2272 166 3150 738
Q 2625 963 1925 1216
Q 1863 1119 1663 831
L 1259 1050
Q 1684 1650 2088 2381
L 416 2381
L 416 2784
L 2284 2784
Q 2563 3388 2713 3828
L 3169 3706
Q 2972 3178 2791 2784
L 5984 2784
L 5984 2381
L 4728 2381
z
M 4244 2381
L 2600 2381
Q 2459 2097 2209 1659
L 2150 1563
Q 2750 1359 3366 1113
L 3525 1050
Q 4019 1572 4244 2381
z
M 3419 4428
L 5753 4428
L 5753 3163
L 5278 3163
L 5278 4025
L 1116 4025
L 1116 3163
L 641 3163
L 641 4428
L 2931 4428
L 2931 5313
L 3419 5313
L 3419 4428
z
" transform="scale(0.015625)"/>
</defs>
<use href="#IPAGothic-6700"/>
<use href="#IPAGothic-5b89" transform="translate(100 0)"/>
<use href="#IPAGothic-5024" transform="translate(200 0)"/>
</g>
</g>
</g>
</g>
</g>
<defs>
<clipPath id="p26bf94b5a2">
<rect x="51.516" y="26.6904" width="657.648" height="331.8696"/>
</clipPath>
</defs>
</svg>

</body></html>
